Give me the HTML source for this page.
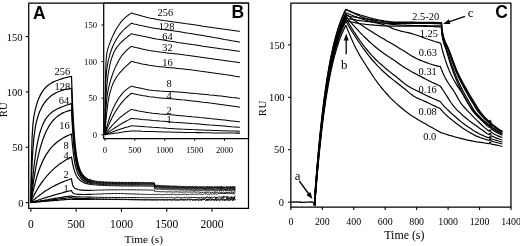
<!DOCTYPE html>
<html lang="en"><head><meta charset="utf-8"><title>Figure</title>
<style>
html,body{margin:0;padding:0;background:#fff;}
svg{display:block;}
.se{font-family:"Liberation Serif","DejaVu Serif",serif;}
.sa{font-family:"Liberation Sans","DejaVu Sans",sans-serif;}
</style></head><body>
<svg width="520" height="246" viewBox="0 0 520 246">
<rect x="0" y="0" width="520" height="246" fill="#fff"/>
<g fill="none" stroke="#000" stroke-linejoin="round" stroke-linecap="butt">
<rect x="28.7" y="3.2" width="219.80" height="205.25" stroke-width="1.25"/>
<line x1="30.85" y1="208.45" x2="30.85" y2="211.80" stroke-width="1.1" />
<line x1="76.16" y1="208.45" x2="76.16" y2="211.80" stroke-width="1.1" />
<line x1="121.46" y1="208.45" x2="121.46" y2="211.80" stroke-width="1.1" />
<line x1="166.76" y1="208.45" x2="166.76" y2="211.80" stroke-width="1.1" />
<line x1="212.07" y1="208.45" x2="212.07" y2="211.80" stroke-width="1.1" />
<line x1="28.70" y1="202.60" x2="25.65" y2="202.60" stroke-width="1.1" />
<line x1="28.70" y1="147.26" x2="25.65" y2="147.26" stroke-width="1.1" />
<line x1="28.70" y1="91.93" x2="25.65" y2="91.93" stroke-width="1.1" />
<line x1="28.70" y1="36.59" x2="25.65" y2="36.59" stroke-width="1.1" />
<polyline points="30.9,202.6 31,186.2 31.2,173.2 31.5,158.4 31.8,147.6 32.1,137.6 32.5,130.6 32.9,124.6 33.4,120.4 33.9,116.5 34.5,113.4 35.2,110 35.9,107.1 36.8,104 37.7,101.2 38.8,98.4 39.9,95.9 41.3,93.4 42.6,91.2 44,89.4 45.3,87.8 46.7,86.5 48.1,85.3 49.4,84.3 50.8,83.4 52.1,82.6 53.5,81.9 54.9,81.3 56.2,80.7 57.6,80.2 58.9,79.7 60.3,79.2 61.7,78.8 63,78.4 64.4,78 65.7,77.7 67.1,77.3 68.5,77 69.8,76.7 71.2,76.4 71.5,76.3 71.8,84.7 72.2,94.8 72.6,105.6 73.2,116.8 73.8,127.6 74.5,137.4 75.3,146.1 76.2,153.6 77.2,159.6 78.3,164.7 79.7,169.1 81,172.2 82.9,175 85.1,177.3 87.8,179 91,180.1" stroke-width="1.2" />
<polyline points="91,180.1 94.2,180.9 95.7,181.1 97.2,181.3 98.6,181.5 100.1,181.7 101.5,181.7 103,181.9 104.4,182 105.9,182 107.3,182.1 108.8,182.1 110.2,182.1 111.7,182.3 113.1,182.2 114.6,182.3 116,182.4 117.5,182.3 118.9,182.3 120.4,182.4 121.8,182.4 123.3,182.4 124.7,182.4 126.2,182.4 127.6,182.5 129.1,182.4 130.5,182.4 132,182.4 133.4,182.4 134.9,182.5 136.3,182.4 137.8,182.4 139.2,182.5 139.6,182.4 140.1,182.5 140.6,182.5 141.1,182.5 141.6,182.5 142.1,182.5 142.6,182.4 143.1,182.5 143.6,182.5 144.1,182.5 144.6,182.5 145.1,182.6 145.6,182.6 146.1,182.5 146.6,182.5 147.1,182.5 147.6,182.5 148.1,182.6 148.6,182.5 149.1,182.6 149.5,182.5 150,182.6 150.5,182.6 151,182.5 151.5,182.6 152,182.6 152.5,182.7 153,182.7 153.5,182.8 154,182.7 154.3,182.7 154.8,185.1 155.2,185.3 155.7,185.3 156.2,185.3 156.7,185.2 157.2,185.2 157.7,185.3 158.2,185.5 158.7,185.4 159.2,185.4 159.7,185.6 160.2,185.5 160.6,185.6 161.1,185.6 161.6,185.6 162.1,185.6 162.6,185.7 163.1,185.7 163.6,185.8 164.1,185.7 164.6,185.9 165.1,185.8 165.6,185.8 166.1,185.7 166.6,185.9 167.1,186 167.6,185.9 168.1,186 168.6,185.8 169.1,186 169.6,186 170.1,185.8 170.6,186.1 171.1,186.1 171.6,186.1 172.1,186.1 172.6,186.2 173.1,186.1 173.6,186 174.1,186.1 174.6,186.1 175.1,186 175.6,186.1 176.1,186.1 176.6,186.1 177.1,186.1 177.6,186.4 178.1,186.3 178.6,186.4 179.1,186.4 179.6,186.3 180.1,186.4 180.6,186.3 181.1,186.3 181.6,186.6 182.1,186.4 182.6,186.5 183.1,186.3 183.6,186.6 184.1,186.6 184.6,186.5 185.1,186.5 185.6,186.4 186.1,186.6 186.6,186.7 187.1,186.3 187.6,186.7 188.1,186.7 188.6,186.7 189.1,186.7 189.6,186.7 190.1,186.6 190.6,186.3 191,186.8 191.5,186.7 192,186.5 192.5,186.4 193,186.3 193.5,186.9 194,186.6 194.5,186.4 195,187 195.5,186.6 196,186.9 196.5,186.5 197,186.4 197.5,186.7 198,187 198.5,187 199,186.8 199.5,186.5 200,186.9 200.5,186.6 201,186.8 201.5,186.9 202,186.6 202.5,186.9 203,186.9 203.5,186.6 204,186.8 204.5,186.6 205,186.8 205.5,187.1 206,186.8 206.5,186.5 207,186.8 207.5,186.4 208,187.2 208.5,187 209,186.6 209.5,186.7 210,186.8 210.5,186.7 211,186.5 211.5,186.7 212,186.8 212.5,186.8 213,186.7 213.5,187 214,186.7 214.5,186.7 215,186.6 215.5,186.9 216,187.3 216.5,186.8 217,186.5 217.5,186.7 218,186.7 218.5,187 219,187 219.5,186.7 220,187.3 220.5,186.5 220.9,186.5 221.4,186.4 221.9,187.3 222.4,187.3 222.9,186.5 223.4,187 223.9,187.1 224.4,187 224.9,186.7 225.4,187.2 225.9,186.9 226.4,186.7 226.9,186.6 227.4,187.4 227.9,186.5 228.4,187 228.9,187 229.4,186.8 229.9,187.1 230.4,186.4 230.9,187.2 231.4,186.8 231.9,187.3 232.4,186.7 232.9,186.4 233.4,186.4 233.9,187.3 234.4,186.7 234.9,186.4 235.3,187.3" stroke-width="0.95" />
<polyline points="30.9,202.6 31,195.2 31.2,188.5 31.5,179.7 31.8,172.1 32.1,163.6 32.5,156.5 32.9,149.2 33.4,143.3 33.9,137.6 34.5,133.1 35.2,128.2 35.9,124.2 36.8,120.3 37.7,117.1 38.8,113.8 39.9,111.1 41.3,108.2 42.6,105.7 44,103.6 45.3,101.7 46.7,100 48.1,98.6 49.4,97.3 50.8,96.1 52.1,95.1 53.5,94.2 54.9,93.4 56.2,92.7 57.6,92 58.9,91.5 60.3,91 61.7,90.5 63,90.1 64.4,89.7 65.7,89.4 67.1,89.1 68.5,88.9 69.8,88.6 71.2,88.4 71.5,88.4 71.8,95.8 72.2,104.6 72.6,114.2 73.2,124.1 73.8,133.6 74.5,142.3 75.3,150.1 76.2,156.7 77.2,162.2 78.3,166.7 79.7,170.7 81,173.6 82.9,176.1 85.1,178.2 87.8,179.9 91,181" stroke-width="1.2" />
<polyline points="91,181 94.2,181.7 95.7,181.8 97.2,181.9 98.6,182.2 100.1,182.3 101.5,182.4 103,182.4 104.4,182.5 105.9,182.6 107.3,182.7 108.8,182.6 110.2,182.7 111.7,182.7 113.1,182.8 114.6,182.8 116,182.9 117.5,182.9 118.9,182.9 120.4,183 121.8,182.9 123.3,182.9 124.7,182.9 126.2,183 127.6,182.9 129.1,183 130.5,183 132,183 133.4,182.9 134.9,182.9 136.3,183 137.8,183 139.2,183 139.6,183 140.1,183 140.6,183.1 141.1,183.1 141.6,183 142.1,183 142.6,183 143.1,183 143.6,183 144.1,183 144.6,183.1 145.1,183.1 145.6,183.1 146.1,183 146.6,183.2 147.1,183.1 147.6,183 148.1,183.2 148.6,183.2 149.1,183.1 149.5,183.2 150,183.1 150.5,183.2 151,183.1 151.5,183.2 152,183.1 152.5,183.3 153,183.1 153.5,183.3 154,183.2 154.3,183.3 154.8,185.8 155.2,185.8 155.7,185.8 156.2,185.8 156.7,186 157.2,185.9 157.7,185.9 158.2,186.1 158.7,185.9 159.2,186.1 159.7,186.1 160.2,186.2 160.6,186.1 161.1,186.3 161.6,186.2 162.1,186.2 162.6,186.3 163.1,186.2 163.6,186.2 164.1,186.2 164.6,186.2 165.1,186.4 165.6,186.4 166.1,186.5 166.6,186.5 167.1,186.4 167.6,186.4 168.1,186.5 168.6,186.5 169.1,186.4 169.6,186.4 170.1,186.7 170.6,186.7 171.1,186.5 171.6,186.6 172.1,186.7 172.6,186.6 173.1,186.6 173.6,186.9 174.1,186.5 174.6,186.5 175.1,186.8 175.6,186.8 176.1,186.9 176.6,186.7 177.1,186.9 177.6,186.8 178.1,186.7 178.6,186.8 179.1,186.7 179.6,187 180.1,186.7 180.6,187.1 181.1,187.1 181.6,186.8 182.1,187 182.6,187.2 183.1,187.2 183.6,186.8 184.1,187.2 184.6,187.2 185.1,186.8 185.6,186.9 186.1,187.1 186.6,187.2 187.1,186.9 187.6,186.9 188.1,187 188.6,187.1 189.1,187.1 189.6,186.8 190.1,187.1 190.6,187.4 191,187.4 191.5,187.1 192,187 192.5,187.1 193,187 193.5,187.3 194,187.3 194.5,187.4 195,187.3 195.5,187.4 196,187 196.5,187.5 197,187.4 197.5,187.1 198,187.3 198.5,187.4 199,186.9 199.5,187 200,187.5 200.5,187.5 201,187.3 201.5,187.3 202,187.4 202.5,187.3 203,187.2 203.5,187.1 204,187.5 204.5,187.2 205,187.7 205.5,187.7 206,187.7 206.5,187.7 207,187.1 207.5,187.5 208,187.4 208.5,187.4 209,187.6 209.5,187.8 210,187.7 210.5,187.1 211,187.5 211.5,187.5 212,187.6 212.5,187.2 213,187.2 213.5,187.5 214,187.4 214.5,187.5 215,187.3 215.5,187.3 216,187.3 216.5,187 217,187 217.5,187.9 218,187.5 218.5,187.9 219,187.5 219.5,187.1 220,187.2 220.5,187.4 220.9,187.8 221.4,187.1 221.9,187.3 222.4,187.6 222.9,187.1 223.4,187.9 223.9,187.8 224.4,187.1 224.9,187.9 225.4,187.8 225.9,187.4 226.4,187.2 226.9,187.3 227.4,188 227.9,187.7 228.4,187.2 228.9,187.6 229.4,187.8 229.9,188 230.4,187.7 230.9,186.9 231.4,188 231.9,187.4 232.4,186.9 232.9,187.2 233.4,187.7 233.9,187.3 234.4,187.9 234.9,187.4 235.3,187.7" stroke-width="0.95" />
<polyline points="30.9,202.6 31,200 31.2,197.4 31.5,193.7 31.8,190.2 32.1,185.7 32.5,181.5 32.9,176.6 33.4,172 33.9,167 34.5,162.3 35.2,156.8 35.9,151.8 36.8,146.3 37.7,141.6 38.8,136.8 39.9,132.7 41.3,128.4 42.6,124.9 44,122 45.3,119.6 46.7,117.6 48.1,115.9 49.4,114.4 50.8,113.2 52.1,112.1 53.5,111.1 54.9,110.3 56.2,109.5 57.6,108.8 58.9,108.2 60.3,107.6 61.7,107 63,106.5 64.4,106 65.7,105.5 67.1,105 68.5,104.5 69.8,104.1 71.2,103.7 71.5,103.6 71.8,109.6 72.2,117 72.6,125 73.2,133.3 73.8,141.2 74.5,148.5 75.3,155.1 76.2,160.7 77.2,165.4 78.3,169.2 79.7,172.6 81,175.2 82.9,177.4 85.1,179.3 87.8,180.7 91,181.7" stroke-width="1.2" />
<polyline points="91,181.7 94.2,182.3 95.7,182.6 97.2,182.7 98.6,182.9 100.1,182.9 101.5,183 103,183.2 104.4,183.2 105.9,183.3 107.3,183.4 108.8,183.3 110.2,183.4 111.7,183.4 113.1,183.5 114.6,183.5 116,183.5 117.5,183.5 118.9,183.6 120.4,183.5 121.8,183.5 123.3,183.6 124.7,183.6 126.2,183.7 127.6,183.7 129.1,183.6 130.5,183.7 132,183.6 133.4,183.6 134.9,183.7 136.3,183.6 137.8,183.7 139.2,183.7 139.6,183.6 140.1,183.7 140.6,183.7 141.1,183.7 141.6,183.7 142.1,183.6 142.6,183.7 143.1,183.7 143.6,183.6 144.1,183.7 144.6,183.6 145.1,183.6 145.6,183.6 146.1,183.8 146.6,183.7 147.1,183.8 147.6,183.8 148.1,183.6 148.6,183.7 149.1,183.7 149.5,183.7 150,183.7 150.5,183.7 151,183.6 151.5,183.7 152,183.7 152.5,183.7 153,183.7 153.5,183.8 154,183.8 154.3,183.8 154.8,186.4 155.2,186.4 155.7,186.3 156.2,186.5 156.7,186.5 157.2,186.6 157.7,186.4 158.2,186.4 158.7,186.5 159.2,186.5 159.7,186.6 160.2,186.8 160.6,186.6 161.1,186.7 161.6,186.7 162.1,186.8 162.6,186.7 163.1,186.9 163.6,186.7 164.1,186.8 164.6,186.9 165.1,186.8 165.6,187 166.1,186.9 166.6,187.1 167.1,187 167.6,187.1 168.1,187.1 168.6,187.1 169.1,187.2 169.6,187.3 170.1,187.2 170.6,186.9 171.1,187.1 171.6,187.2 172.1,187.3 172.6,187.3 173.1,187.2 173.6,187.2 174.1,187.1 174.6,187.3 175.1,187.1 175.6,187.2 176.1,187.2 176.6,187.4 177.1,187.4 177.6,187.5 178.1,187.3 178.6,187.6 179.1,187.4 179.6,187.6 180.1,187.5 180.6,187.6 181.1,187.7 181.6,187.5 182.1,187.5 182.6,187.5 183.1,187.7 183.6,187.5 184.1,187.7 184.6,187.8 185.1,187.6 185.6,187.5 186.1,187.7 186.6,187.5 187.1,187.5 187.6,187.9 188.1,187.8 188.6,187.8 189.1,187.6 189.6,187.7 190.1,187.6 190.6,187.9 191,187.8 191.5,187.9 192,187.6 192.5,187.6 193,187.9 193.5,187.5 194,188 194.5,188.1 195,187.9 195.5,187.7 196,187.5 196.5,187.8 197,188 197.5,187.7 198,188.2 198.5,187.6 199,188 199.5,188.1 200,188.1 200.5,187.6 201,187.6 201.5,188.1 202,187.5 202.5,187.6 203,188 203.5,188.2 204,188.2 204.5,187.9 205,188.1 205.5,188.2 206,188.1 206.5,187.6 207,188.3 207.5,187.6 208,188 208.5,187.7 209,187.9 209.5,187.6 210,188.2 210.5,188.1 211,187.9 211.5,187.9 212,188.1 212.5,188.1 213,188.3 213.5,188 214,187.7 214.5,187.6 215,188 215.5,187.5 216,187.5 216.5,188.1 217,188.3 217.5,187.6 218,187.5 218.5,187.8 219,187.5 219.5,188 220,188 220.5,188.4 220.9,188.1 221.4,187.5 221.9,188.4 222.4,188.4 222.9,188.5 223.4,188 223.9,187.9 224.4,188 224.9,187.6 225.4,187.8 225.9,187.8 226.4,187.9 226.9,188 227.4,188.5 227.9,188.4 228.4,187.8 228.9,188.3 229.4,188.1 229.9,187.8 230.4,187.9 230.9,188.3 231.4,188.3 231.9,188.4 232.4,187.8 232.9,187.7 233.4,188.4 233.9,188.3 234.4,188.4 234.9,187.9 235.3,188.2" stroke-width="0.95" />
<polyline points="30.9,202.6 31,201 31.2,199.4 31.5,197.1 31.8,194.9 32.1,192 32.5,189.2 32.9,185.9 33.4,182.7 33.9,179 34.5,175.6 35.2,171.2 35.9,167.1 36.8,162.4 37.7,158.1 38.8,153.4 39.9,149.1 41.3,144.4 42.6,140.2 44,136.5 45.3,133.2 46.7,130.3 48.1,127.7 49.4,125.4 50.8,123.4 52.1,121.6 53.5,120 54.9,118.6 56.2,117.4 57.6,116.3 58.9,115.3 60.3,114.4 61.7,113.6 63,112.9 64.4,112.3 65.7,111.7 67.1,111.2 68.5,110.8 69.8,110.4 71.2,110.1 71.5,110 71.8,115.5 72.2,122.4 72.6,129.7 73.2,137.3 73.8,144.6 74.5,151.4 75.3,157.4 76.2,162.6 77.2,167.1 78.3,170.6 79.7,173.8 81,176.2 82.9,178.3 85.1,180.2 87.8,181.4 91,182.5" stroke-width="1.2" />
<polyline points="91,182.5 94.2,183 95.7,183.3 97.2,183.4 98.6,183.5 100.1,183.7 101.5,183.8 103,183.8 104.4,183.9 105.9,184 107.3,184 108.8,184 110.2,184.1 111.7,184.1 113.1,184.1 114.6,184.1 116,184.3 117.5,184.3 118.9,184.2 120.4,184.3 121.8,184.2 123.3,184.2 124.7,184.2 126.2,184.3 127.6,184.2 129.1,184.2 130.5,184.3 132,184.3 133.4,184.4 134.9,184.2 136.3,184.3 137.8,184.3 139.2,184.3 139.6,184.4 140.1,184.3 140.6,184.4 141.1,184.4 141.6,184.3 142.1,184.4 142.6,184.3 143.1,184.4 143.6,184.3 144.1,184.3 144.6,184.3 145.1,184.4 145.6,184.4 146.1,184.3 146.6,184.3 147.1,184.3 147.6,184.3 148.1,184.4 148.6,184.4 149.1,184.3 149.5,184.4 150,184.5 150.5,184.4 151,184.5 151.5,184.4 152,184.4 152.5,184.5 153,184.4 153.5,184.4 154,184.5 154.3,184.4 154.8,187.1 155.2,187.1 155.7,187 156.2,187.1 156.7,187 157.2,187 157.7,187.2 158.2,187.1 158.7,187.2 159.2,187.2 159.7,187.3 160.2,187.2 160.6,187.4 161.1,187.4 161.6,187.4 162.1,187.4 162.6,187.6 163.1,187.4 163.6,187.6 164.1,187.5 164.6,187.5 165.1,187.5 165.6,187.5 166.1,187.6 166.6,187.8 167.1,187.7 167.6,187.6 168.1,187.7 168.6,187.6 169.1,187.7 169.6,187.7 170.1,187.7 170.6,187.6 171.1,188 171.6,188 172.1,188 172.6,188 173.1,188.1 173.6,187.7 174.1,188.1 174.6,187.9 175.1,187.8 175.6,188 176.1,188.1 176.6,188.1 177.1,188.1 177.6,188.1 178.1,188.1 178.6,188.1 179.1,188.3 179.6,187.9 180.1,187.9 180.6,188.1 181.1,188.3 181.6,188 182.1,188.2 182.6,188.2 183.1,188.3 183.6,188 184.1,188.1 184.6,188.3 185.1,188.3 185.6,188.3 186.1,188.3 186.6,188.2 187.1,188 187.6,188.6 188.1,188.1 188.6,188.1 189.1,188.5 189.6,188.1 190.1,188.1 190.6,188.2 191,188.6 191.5,188.4 192,188.2 192.5,188.4 193,188.7 193.5,188.2 194,188.5 194.5,188.6 195,188.5 195.5,188.7 196,188.5 196.5,188.8 197,188.1 197.5,188.7 198,188.6 198.5,188.6 199,188.5 199.5,188.6 200,188.2 200.5,188.7 201,188.2 201.5,188.6 202,188.2 202.5,188.7 203,188.9 203.5,188.3 204,188.8 204.5,188.4 205,188.3 205.5,188.8 206,188.7 206.5,188.5 207,188.3 207.5,188.3 208,188.6 208.5,188.5 209,188.3 209.5,188.9 210,188.2 210.5,188.3 211,188.8 211.5,188.5 212,188.4 212.5,188.5 213,189 213.5,189 214,188.9 214.5,189 215,188.6 215.5,188.4 216,188.6 216.5,188.2 217,188.6 217.5,188.7 218,189 218.5,188.2 219,188.5 219.5,188.2 220,188.2 220.5,189.1 220.9,188.5 221.4,188.7 221.9,188.4 222.4,189.1 222.9,188.5 223.4,188.5 223.9,188.8 224.4,189.1 224.9,188.5 225.4,189.1 225.9,188.8 226.4,189.2 226.9,188.9 227.4,188.9 227.9,188.5 228.4,188.4 228.9,188.4 229.4,188.8 229.9,188.4 230.4,188.5 230.9,188.6 231.4,188.3 231.9,188.1 232.4,188.7 232.9,188.1 233.4,188.5 233.9,188.8 234.4,188.7 234.9,188.5 235.3,188.9" stroke-width="0.95" />
<polyline points="30.9,202.6 31,201.6 31.2,200.7 31.5,199.3 31.8,197.9 32.1,196.1 32.5,194.3 32.9,192.2 33.4,190.2 33.9,187.9 34.5,185.6 35.2,182.8 35.9,180.1 36.8,176.9 37.7,174 38.8,170.8 39.9,167.8 41.3,164.4 42.6,161.3 44,158.6 45.3,156.1 46.7,153.8 48.1,151.8 49.4,149.9 50.8,148.2 52.1,146.7 53.5,145.3 54.9,144 56.2,142.8 57.6,141.7 58.9,140.7 60.3,139.7 61.7,138.9 63,138.1 64.4,137.3 65.7,136.6 67.1,135.9 68.5,135.3 69.8,134.7 71.2,134.1 71.5,134 71.8,137.6 72.2,142 72.6,146.9 73.2,151.8 73.8,156.7 74.5,161.2 75.3,165.3 76.2,168.8 77.2,171.9 78.3,174.4 79.7,176.7 81,178.5 82.9,180.2 85.1,181.5 87.8,182.6 91,183.3" stroke-width="1.2" />
<polyline points="91,183.3 94.2,183.9 95.7,184 97.2,184.2 98.6,184.4 100.1,184.4 101.5,184.5 103,184.6 104.4,184.6 105.9,184.7 107.3,184.8 108.8,184.8 110.2,184.8 111.7,184.9 113.1,184.9 114.6,184.9 116,185 117.5,185 118.9,185 120.4,185 121.8,185 123.3,185 124.7,185.1 126.2,185 127.6,185.1 129.1,185 130.5,185.1 132,185.1 133.4,185.1 134.9,185.1 136.3,185 137.8,185.1 139.2,185.1 139.6,185.2 140.1,185.2 140.6,185.2 141.1,185.1 141.6,185.1 142.1,185.2 142.6,185.2 143.1,185.1 143.6,185.2 144.1,185.1 144.6,185.2 145.1,185.1 145.6,185.1 146.1,185.2 146.6,185.2 147.1,185.2 147.6,185.2 148.1,185.3 148.6,185.2 149.1,185.2 149.5,185.3 150,185.2 150.5,185.2 151,185.2 151.5,185.2 152,185.3 152.5,185.2 153,185.4 153.5,185.4 154,185.4 154.3,185.4 154.8,187.8 155.2,188 155.7,188 156.2,187.9 156.7,187.9 157.2,188 157.7,188.1 158.2,188.2 158.7,188.1 159.2,188 159.7,188.1 160.2,188.1 160.6,188.3 161.1,188.3 161.6,188.4 162.1,188.3 162.6,188.3 163.1,188.4 163.6,188.3 164.1,188.4 164.6,188.3 165.1,188.4 165.6,188.3 166.1,188.5 166.6,188.4 167.1,188.4 167.6,188.7 168.1,188.4 168.6,188.5 169.1,188.4 169.6,188.7 170.1,188.6 170.6,188.6 171.1,188.6 171.6,188.6 172.1,188.5 172.6,188.8 173.1,188.6 173.6,188.7 174.1,188.6 174.6,188.6 175.1,188.8 175.6,188.8 176.1,188.6 176.6,188.6 177.1,188.7 177.6,188.7 178.1,188.7 178.6,188.9 179.1,189 179.6,189.1 180.1,188.9 180.6,189.1 181.1,188.8 181.6,188.9 182.1,188.8 182.6,188.9 183.1,189.1 183.6,189.1 184.1,189 184.6,189 185.1,188.8 185.6,189 186.1,189.2 186.6,189.2 187.1,189 187.6,189.3 188.1,189.1 188.6,188.9 189.1,188.9 189.6,189.1 190.1,189.1 190.6,189.3 191,189.1 191.5,189.2 192,189.1 192.5,188.9 193,189 193.5,189.4 194,189.4 194.5,189.1 195,188.9 195.5,189.2 196,189 196.5,189.4 197,189.4 197.5,188.9 198,189 198.5,189.3 199,189.1 199.5,189.2 200,189.1 200.5,189.2 201,189.2 201.5,189 202,189.4 202.5,189.1 203,189 203.5,189.7 204,189.5 204.5,189.4 205,189.3 205.5,189.4 206,189 206.5,189.6 207,189.5 207.5,189.7 208,189.6 208.5,189.3 209,189.7 209.5,189 210,189.2 210.5,189.7 211,189.1 211.5,189.7 212,189.4 212.5,189.6 213,189.7 213.5,189.4 214,189 214.5,189.8 215,189.7 215.5,189.4 216,189 216.5,189.5 217,189.1 217.5,189.4 218,189.5 218.5,189.2 219,189.7 219.5,189.4 220,189.9 220.5,189.4 220.9,188.9 221.4,189.9 221.9,189.8 222.4,189.3 222.9,189 223.4,189.4 223.9,188.9 224.4,189.6 224.9,188.9 225.4,189.7 225.9,189.1 226.4,189.6 226.9,189.1 227.4,189.9 227.9,189.6 228.4,188.9 228.9,189.1 229.4,189.4 229.9,189.6 230.4,188.9 230.9,189.8 231.4,189.8 231.9,190 232.4,189.2 232.9,188.9 233.4,189.9 233.9,189.1 234.4,189.1 234.9,189.8 235.3,189.4" stroke-width="0.95" />
<polyline points="30.9,202.6 31,202.1 31.2,201.6 31.5,200.9 31.8,200.2 32.1,199.3 32.5,198.5 32.9,197.5 33.4,196.6 33.9,195.5 34.5,194.4 35.2,193.1 35.9,191.7 36.8,190.2 37.7,188.7 38.8,186.9 39.9,185.2 41.3,183.2 42.6,181.3 44,179.5 45.3,177.8 46.7,176.2 48.1,174.6 49.4,173.1 50.8,171.7 52.1,170.4 53.5,169.1 54.9,167.9 56.2,166.8 57.6,165.7 58.9,164.6 60.3,163.6 61.7,162.7 63,161.8 64.4,160.9 65.7,160.1 67.1,159.3 68.5,158.6 69.8,157.9 71.2,157.2 71.5,157 71.8,158.8 72.2,161.1 72.6,163.5 73.2,166.2 73.8,168.7 74.5,171.1 75.3,173.3 76.2,175.3 77.2,177 78.3,178.6 79.7,180 81,181 82.9,182.1 85.1,183.1 87.8,183.8 91,184.5" stroke-width="1.2" />
<polyline points="91,184.5 94.2,184.9 95.7,184.9 97.2,185.1 98.6,185.3 100.1,185.4 101.5,185.4 103,185.4 104.4,185.5 105.9,185.6 107.3,185.6 108.8,185.7 110.2,185.7 111.7,185.7 113.1,185.8 114.6,185.8 116,185.8 117.5,185.9 118.9,185.9 120.4,185.9 121.8,186 123.3,186 124.7,186 126.2,186 127.6,186 129.1,186 130.5,186.1 132,186.1 133.4,186 134.9,186 136.3,186.1 137.8,186 139.2,186 139.6,186.1 140.1,186.1 140.6,186 141.1,186 141.6,186 142.1,186.1 142.6,186.2 143.1,186.2 143.6,186.2 144.1,186.1 144.6,186.1 145.1,186.1 145.6,186.2 146.1,186.3 146.6,186.3 147.1,186.3 147.6,186.1 148.1,186.2 148.6,186.3 149.1,186.2 149.5,186.2 150,186.3 150.5,186.4 151,186.3 151.5,186.3 152,186.4 152.5,186.4 153,186.5 153.5,186.4 154,186.4 154.3,186.4 154.8,189 155.2,188.9 155.7,189.1 156.2,189 156.7,189.1 157.2,189.1 157.7,189.1 158.2,189.1 158.7,189.1 159.2,189.1 159.7,189.1 160.2,189.3 160.6,189.1 161.1,189.3 161.6,189.4 162.1,189.5 162.6,189.4 163.1,189.4 163.6,189.4 164.1,189.3 164.6,189.3 165.1,189.3 165.6,189.4 166.1,189.4 166.6,189.4 167.1,189.5 167.6,189.7 168.1,189.6 168.6,189.6 169.1,189.6 169.6,189.7 170.1,189.5 170.6,189.8 171.1,189.7 171.6,189.8 172.1,189.6 172.6,189.6 173.1,189.6 173.6,189.9 174.1,189.9 174.6,189.6 175.1,189.7 175.6,190 176.1,189.9 176.6,190.1 177.1,189.7 177.6,189.7 178.1,189.7 178.6,189.8 179.1,190 179.6,190 180.1,189.9 180.6,190 181.1,189.8 181.6,190 182.1,190 182.6,189.8 183.1,190.1 183.6,190.1 184.1,190.3 184.6,189.8 185.1,190.1 185.6,190.1 186.1,189.9 186.6,189.9 187.1,190.3 187.6,190.3 188.1,189.9 188.6,189.9 189.1,190.1 189.6,190 190.1,190.4 190.6,190.2 191,190.4 191.5,190.4 192,190.5 192.5,190.2 193,190.2 193.5,190.3 194,190.1 194.5,190.5 195,190.4 195.5,190.5 196,190.2 196.5,190.1 197,190.5 197.5,190 198,190.4 198.5,190.5 199,190.5 199.5,190.1 200,190.7 200.5,190.4 201,190.5 201.5,190.3 202,190.4 202.5,190.6 203,190.6 203.5,190 204,190.3 204.5,190 205,190 205.5,190.3 206,190 206.5,190.4 207,190.5 207.5,190.1 208,190.5 208.5,190.6 209,190.4 209.5,190.5 210,190 210.5,190 211,190.2 211.5,190 212,190.6 212.5,190.6 213,190.5 213.5,190.3 214,190.8 214.5,190.8 215,190.6 215.5,190.8 216,190.6 216.5,190.8 217,190.6 217.5,190.5 218,190.4 218.5,190.1 219,190.6 219.5,190.5 220,190 220.5,190.9 220.9,190.4 221.4,190.8 221.9,190.9 222.4,190 222.9,190.2 223.4,190.5 223.9,190.1 224.4,189.9 224.9,190.3 225.4,190.5 225.9,191 226.4,189.9 226.9,190.1 227.4,190.9 227.9,190.5 228.4,190.7 228.9,189.9 229.4,190.7 229.9,190.8 230.4,190 230.9,190.7 231.4,190.9 231.9,190.9 232.4,190.8 232.9,190.5 233.4,190.7 233.9,190.2 234.4,189.9 234.9,190.9 235.3,191" stroke-width="0.95" />
<polyline points="30.9,202.6 31,202.4 31.2,202.3 31.5,202 31.8,201.7 32.1,201.4 32.5,201.1 32.9,200.6 33.4,200.2 33.9,199.8 34.5,199.3 35.2,198.7 35.9,198 36.8,197.3 37.7,196.6 38.8,195.7 39.9,194.9 41.3,193.9 42.6,192.9 44,192 45.3,191.1 46.7,190.2 48.1,189.4 49.4,188.6 50.8,187.8 52.1,187 53.5,186.3 54.9,185.6 56.2,184.9 57.6,184.3 58.9,183.6 60.3,183 61.7,182.4 63,181.9 64.4,181.3 65.7,180.8 67.1,180.3 68.5,179.8 69.8,179.3 71.2,178.8 71.5,178.7 71.8,180.9 72.2,183 72.6,184.7 73.2,186.2 73.8,187.1 74.5,187.9 75.3,188.4 76.2,188.9 77.2,189.2 78.3,189.5 79.7,189.8 81,190.1 82.9,190.2 85.1,190.4 87.8,190.4 91,190.3" stroke-width="1.2" />
<polyline points="91,190.3 94.2,190.3 95.7,190.2 97.2,190.1 98.6,190.1 100.1,190.1 101.5,190 103,190 104.4,189.9 105.9,189.9 107.3,189.9 108.8,189.8 110.2,189.8 111.7,189.8 113.1,189.8 114.6,189.8 116,189.8 117.5,189.8 118.9,189.8 120.4,189.8 121.8,189.7 123.3,189.7 124.7,189.8 126.2,189.8 127.6,189.7 129.1,189.8 130.5,189.8 132,189.8 133.4,189.8 134.9,189.8 136.3,189.9 137.8,189.9 139.2,189.9 139.6,189.8 140.1,189.8 140.6,189.9 141.1,189.9 141.6,189.9 142.1,189.9 142.6,190 143.1,189.9 143.6,190 144.1,189.9 144.6,189.9 145.1,190 145.6,189.9 146.1,190 146.6,189.9 147.1,189.9 147.6,190.1 148.1,190 148.6,190.1 149.1,190.1 149.5,190 150,190.2 150.5,190.1 151,190 151.5,190.1 152,190.1 152.5,190.2 153,190.1 153.5,190.1 154,190.2 154.3,190.1 154.8,191.5 155.2,191.5 155.7,191.7 156.2,191.5 156.7,191.6 157.2,191.5 157.7,191.6 158.2,191.7 158.7,191.6 159.2,191.5 159.7,191.6 160.2,191.8 160.6,191.7 161.1,191.6 161.6,191.8 162.1,191.8 162.6,191.6 163.1,191.7 163.6,191.7 164.1,191.8 164.6,191.7 165.1,191.9 165.6,191.9 166.1,191.8 166.6,191.7 167.1,191.8 167.6,192 168.1,192 168.6,191.7 169.1,191.9 169.6,191.9 170.1,191.9 170.6,191.7 171.1,191.9 171.6,192 172.1,192 172.6,192.1 173.1,191.7 173.6,191.9 174.1,191.9 174.6,192.1 175.1,192 175.6,191.8 176.1,191.8 176.6,192 177.1,192 177.6,191.7 178.1,192 178.6,192.1 179.1,192.1 179.6,192 180.1,191.8 180.6,192 181.1,191.8 181.6,192.1 182.1,191.9 182.6,192.2 183.1,192 183.6,192.1 184.1,192.1 184.6,191.9 185.1,192.2 185.6,192 186.1,192.1 186.6,191.8 187.1,192.2 187.6,192.1 188.1,191.9 188.6,192.2 189.1,191.9 189.6,191.8 190.1,192.2 190.6,192.1 191,192.4 191.5,191.9 192,192.2 192.5,192 193,192.3 193.5,192 194,192.1 194.5,191.8 195,191.8 195.5,192.1 196,192.3 196.5,192.3 197,192.1 197.5,191.9 198,191.9 198.5,191.9 199,191.9 199.5,192.2 200,192.1 200.5,192.3 201,192.1 201.5,192.2 202,192.1 202.5,192.5 203,192.5 203.5,192 204,192.2 204.5,192.4 205,191.8 205.5,192.5 206,191.8 206.5,191.9 207,192.6 207.5,191.9 208,192 208.5,192.4 209,192 209.5,191.8 210,192.5 210.5,192.4 211,192.5 211.5,191.9 212,192.5 212.5,192.5 213,192.5 213.5,191.9 214,192.5 214.5,191.8 215,192.6 215.5,192.2 216,192.5 216.5,192.5 217,192.5 217.5,192.1 218,192.5 218.5,192.3 219,191.8 219.5,192.1 220,192.7 220.5,192.4 220.9,192.1 221.4,192.4 221.9,192.6 222.4,192.6 222.9,192.3 223.4,192.1 223.9,192.2 224.4,192.5 224.9,192.6 225.4,192.4 225.9,191.8 226.4,192.7 226.9,192.7 227.4,192.7 227.9,192.1 228.4,192.7 228.9,192.4 229.4,192.4 229.9,192.3 230.4,192.3 230.9,191.8 231.4,192.4 231.9,192.6 232.4,191.9 232.9,192.5 233.4,192.6 233.9,192.8 234.4,191.6 234.9,192 235.3,192" stroke-width="0.95" />
<polyline points="30.9,202.6 31,202.5 31.2,202.5 31.5,202.4 31.8,202.3 32.1,202.1 32.5,202 32.9,201.9 33.4,201.7 33.9,201.5 34.5,201.3 35.2,201.1 35.9,200.8 36.8,200.5 37.7,200.2 38.8,199.8 39.9,199.5 41.3,199 42.6,198.6 44,198.1 45.3,197.7 46.7,197.3 48.1,196.9 49.4,196.5 50.8,196.1 52.1,195.6 53.5,195.2 54.9,194.9 56.2,194.5 57.6,194.1 58.9,193.7 60.3,193.3 61.7,193 63,192.6 64.4,192.2 65.7,191.9 67.1,191.5 68.5,191.2 69.8,190.9 71.2,190.5 71.5,190.4 71.8,191.3 72.2,192 72.6,192.7 73.2,193.1 73.8,193.5 74.5,193.8 75.3,194 76.2,194 77.2,194.3 78.3,194.4 79.7,194.4 81,194.4 82.9,194.5 85.1,194.5 87.8,194.4 91,194.3" stroke-width="1.2" />
<polyline points="91,194.3 94.2,194.1 95.7,194.2 97.2,194 98.6,194 100.1,194 101.5,193.9 103,193.9 104.4,193.7 105.9,193.7 107.3,193.7 108.8,193.7 110.2,193.6 111.7,193.5 113.1,193.6 114.6,193.5 116,193.5 117.5,193.6 118.9,193.5 120.4,193.5 121.8,193.6 123.3,193.6 124.7,193.7 126.2,193.7 127.6,193.8 129.1,193.8 130.5,193.8 132,193.9 133.4,193.9 134.9,194 136.3,194 137.8,194.1 139.2,194.2 139.6,194.2 140.1,194.3 140.6,194.3 141.1,194.2 141.6,194.2 142.1,194.3 142.6,194.2 143.1,194.3 143.6,194.4 144.1,194.3 144.6,194.4 145.1,194.3 145.6,194.4 146.1,194.4 146.6,194.4 147.1,194.5 147.6,194.4 148.1,194.4 148.6,194.5 149.1,194.5 149.5,194.5 150,194.4 150.5,194.4 151,194.6 151.5,194.5 152,194.5 152.5,194.5 153,194.6 153.5,194.4 154,194.5 154.3,194.5 154.8,194.4 155.2,194.6 155.7,194.5 156.2,194.6 156.7,194.6 157.2,194.4 157.7,194.5 158.2,194.4 158.7,194.4 159.2,194.5 159.7,194.4 160.2,194.6 160.6,194.6 161.1,194.6 161.6,194.6 162.1,194.6 162.6,194.6 163.1,194.6 163.6,194.6 164.1,194.5 164.6,194.6 165.1,194.3 165.6,194.5 166.1,194.4 166.6,194.4 167.1,194.4 167.6,194.3 168.1,194.5 168.6,194.6 169.1,194.6 169.6,194.3 170.1,194.6 170.6,194.3 171.1,194.4 171.6,194.3 172.1,194.6 172.6,194.3 173.1,194.6 173.6,194.3 174.1,194.6 174.6,194.3 175.1,194.6 175.6,194.6 176.1,194.5 176.6,194.6 177.1,194.6 177.6,194.5 178.1,194.6 178.6,194.4 179.1,194.3 179.6,194.4 180.1,194.4 180.6,194.5 181.1,194.4 181.6,194.3 182.1,194.2 182.6,194.4 183.1,194.1 183.6,194.4 184.1,194.3 184.6,194.2 185.1,194.6 185.6,194.2 186.1,194.2 186.6,194.5 187.1,194.2 187.6,194.4 188.1,194.5 188.6,194.5 189.1,194.5 189.6,194 190.1,194.1 190.6,194.1 191,194.5 191.5,194.1 192,194.4 192.5,194.2 193,194.5 193.5,194 194,194.3 194.5,194.1 195,194.5 195.5,194.4 196,194 196.5,194.1 197,194.1 197.5,194.3 198,194.1 198.5,193.9 199,193.9 199.5,193.9 200,194.2 200.5,194.2 201,193.8 201.5,194.3 202,194.1 202.5,194.3 203,194.1 203.5,194.3 204,193.8 204.5,193.7 205,194.2 205.5,193.8 206,193.8 206.5,193.7 207,193.8 207.5,194.2 208,193.9 208.5,194.2 209,194 209.5,194.3 210,194.4 210.5,193.6 211,194 211.5,193.9 212,193.8 212.5,194.3 213,193.7 213.5,193.7 214,194.3 214.5,193.6 215,193.8 215.5,193.8 216,194 216.5,194.2 217,194.1 217.5,194.1 218,193.5 218.5,193.6 219,193.3 219.5,194 220,193.4 220.5,193.5 220.9,193.7 221.4,193.5 221.9,194 222.4,193.4 222.9,193.9 223.4,193.6 223.9,193.4 224.4,193.9 224.9,193.1 225.4,194 225.9,193.1 226.4,193 226.9,193.2 227.4,193.6 227.9,193.2 228.4,193.4 228.9,192.9 229.4,193.2 229.9,193.9 230.4,193.4 230.9,193.9 231.4,193.4 231.9,193.9 232.4,193.4 232.9,193 233.4,193.9 233.9,193.5 234.4,193.9 234.9,193.5 235.3,193.5" stroke-width="0.95" />
<polyline points="30.9,202.6 31,202.6 31.2,202.5 31.5,202.5 31.8,202.4 32.1,202.4 32.5,202.3 32.9,202.2 33.4,202.1 33.9,202 34.5,201.9 35.2,201.8 35.9,201.7 36.8,201.5 37.7,201.4 38.8,201.2 39.9,201 41.3,200.7 42.6,200.5 44,200.3 45.3,200 46.7,199.8 48.1,199.6 49.4,199.3 50.8,199.1 52.1,198.9 53.5,198.7 54.9,198.4 56.2,198.2 57.6,198 58.9,197.8 60.3,197.6 61.7,197.4 63,197.1 64.4,196.9 65.7,196.7 67.1,196.5 68.5,196.3 69.8,196.1 71.2,195.9 71.5,195.8 71.8,196.1 72.2,196.3 72.6,196.4 73.2,196.5 73.8,196.7 74.5,196.7 75.3,196.8 76.2,196.9 77.2,196.9 78.3,196.9 79.7,196.9 81,197 82.9,197 85.1,197 87.8,197.1 91,197.1" stroke-width="1.2" />
<polyline points="91,197.1 94.2,197.2 95.7,197.2 97.2,197.3 98.6,197.4 100.1,197.3 101.5,197.3 103,197.4 104.4,197.4 105.9,197.4 107.3,197.4 108.8,197.4 110.2,197.5 111.7,197.5 113.1,197.5 114.6,197.5 116,197.6 117.5,197.6 118.9,197.5 120.4,197.6 121.8,197.6 123.3,197.5 124.7,197.5 126.2,197.6 127.6,197.6 129.1,197.5 130.5,197.5 132,197.5 133.4,197.6 134.9,197.6 136.3,197.6 137.8,197.6 139.2,197.5 139.6,197.6 140.1,197.6 140.6,197.6 141.1,197.6 141.6,197.7 142.1,197.6 142.6,197.6 143.1,197.6 143.6,197.6 144.1,197.6 144.6,197.7 145.1,197.6 145.6,197.7 146.1,197.6 146.6,197.7 147.1,197.6 147.6,197.6 148.1,197.7 148.6,197.7 149.1,197.6 149.5,197.6 150,197.5 150.5,197.6 151,197.6 151.5,197.5 152,197.5 152.5,197.6 153,197.6 153.5,197.5 154,197.7 154.3,197.5 154.8,197.7 155.2,197.7 155.7,197.7 156.2,197.6 156.7,197.7 157.2,197.7 157.7,197.8 158.2,197.8 158.7,197.5 159.2,197.5 159.7,197.5 160.2,197.6 160.6,197.6 161.1,197.6 161.6,197.5 162.1,197.6 162.6,197.4 163.1,197.7 163.6,197.6 164.1,197.5 164.6,197.6 165.1,197.5 165.6,197.5 166.1,197.7 166.6,197.7 167.1,197.8 167.6,197.7 168.1,197.4 168.6,197.9 169.1,197.4 169.6,197.4 170.1,197.4 170.6,197.8 171.1,197.4 171.6,197.3 172.1,197.7 172.6,197.8 173.1,197.8 173.6,197.8 174.1,197.8 174.6,197.9 175.1,197.8 175.6,197.7 176.1,197.4 176.6,197.2 177.1,197.9 177.6,197.3 178.1,197.3 178.6,197.2 179.1,197.6 179.6,197.7 180.1,197.8 180.6,197.7 181.1,197.8 181.6,197.8 182.1,197.6 182.6,197.9 183.1,197.9 183.6,197.6 184.1,198 184.6,197.2 185.1,197.4 185.6,197.8 186.1,197.3 186.6,197.1 187.1,197.3 187.6,197.8 188.1,197.4 188.6,197.3 189.1,197.2 189.6,197.6 190.1,197.8 190.6,197.6 191,198 191.5,197.1 192,197.3 192.5,197.5 193,197.5 193.5,197 194,198 194.5,197 195,197.7 195.5,197.5 196,197.6 196.5,197.7 197,197.6 197.5,197.4 198,197.7 198.5,197.8 199,198.1 199.5,197.7 200,197.5 200.5,198.1 201,198.1 201.5,197 202,198.1 202.5,198 203,197.7 203.5,197.2 204,197.2 204.5,197.4 205,197.6 205.5,197.6 206,198.1 206.5,197.1 207,196.9 207.5,196.7 208,197.8 208.5,197.5 209,197.8 209.5,197.1 210,197.1 210.5,197.9 211,197.9 211.5,196.7 212,197.2 212.5,197.9 213,197.6 213.5,197.5 214,197 214.5,196.8 215,196.8 215.5,198 216,198.1 216.5,197.1 217,197 217.5,198.1 218,197.3 218.5,196.8 219,196.9 219.5,196.7 220,197.2 220.5,197.4 220.9,197.1 221.4,196.9 221.9,197.8 222.4,196.8 222.9,197.6 223.4,196.3 223.9,197.8 224.4,196.7 224.9,196.5 225.4,196.7 225.9,197 226.4,196.5 226.9,198.2 227.4,197.6 227.9,196.3 228.4,197.2 228.9,197.6 229.4,197.8 229.9,197.7 230.4,198.3 230.9,196.8 231.4,198.3 231.9,196.7 232.4,198.3 232.9,198 233.4,197.3 233.9,198.2 234.4,198.2 234.9,196.1 235.3,196.1" stroke-width="1.0" />
<polyline points="30.9,202.6 31,202.6 31.2,202.5 31.5,202.5 31.8,202.5 32.1,202.4 32.5,202.4 32.9,202.3 33.4,202.2 33.9,202.2 34.5,202.1 35.2,202 35.9,201.9 36.8,201.8 37.7,201.7 38.8,201.5 39.9,201.4 41.3,201.2 42.6,201 44,200.8 45.3,200.7 46.7,200.5 48.1,200.3 49.4,200.1 50.8,200 52.1,199.8 53.5,199.6 54.9,199.5 56.2,199.3 57.6,199.1 58.9,199 60.3,198.8 61.7,198.6 63,198.5 64.4,198.3 65.7,198.2 67.1,198 68.5,197.9 69.8,197.7 71.2,197.5 71.5,197.5 71.8,197.7 72.2,197.8 72.6,198 73.2,198.2 73.8,198.2 74.5,198.3 75.3,198.3 76.2,198.4 77.2,198.4 78.3,198.5 79.7,198.5 81,198.5 82.9,198.6 85.1,198.6 87.8,198.7 91,198.8" stroke-width="1.2" />
<polyline points="91,198.8 94.2,198.7 95.7,198.8 97.2,198.8 98.6,198.9 100.1,198.9 101.5,198.9 103,199 104.4,199 105.9,199 107.3,199.1 108.8,199.1 110.2,199.1 111.7,199.2 113.1,199.2 114.6,199.2 116,199.1 117.5,199.1 118.9,199.3 120.4,199.2 121.8,199.2 123.3,199.3 124.7,199.2 126.2,199.3 127.6,199.4 129.1,199.4 130.5,199.3 132,199.3 133.4,199.4 134.9,199.3 136.3,199.4 137.8,199.5 139.2,199.4 139.6,199.5 140.1,199.4 140.6,199.4 141.1,199.5 141.6,199.4 142.1,199.4 142.6,199.4 143.1,199.4 143.6,199.4 144.1,199.5 144.6,199.4 145.1,199.5 145.6,199.4 146.1,199.4 146.6,199.6 147.1,199.4 147.6,199.4 148.1,199.4 148.6,199.4 149.1,199.5 149.5,199.6 150,199.6 150.5,199.6 151,199.6 151.5,199.4 152,199.6 152.5,199.5 153,199.4 153.5,199.6 154,199.5 154.3,199.4 154.8,199.5 155.2,199.7 155.7,199.5 156.2,199.6 156.7,199.7 157.2,199.4 157.7,199.4 158.2,199.3 158.7,199.7 159.2,199.6 159.7,199.6 160.2,199.6 160.6,199.7 161.1,199.5 161.6,199.4 162.1,199.3 162.6,199.4 163.1,199.5 163.6,199.6 164.1,199.6 164.6,199.4 165.1,199.4 165.6,199.6 166.1,199.4 166.6,199.7 167.1,199.7 167.6,199.3 168.1,199.6 168.6,199.3 169.1,199.2 169.6,199.6 170.1,199.6 170.6,199.4 171.1,199.6 171.6,199.7 172.1,199.4 172.6,199.7 173.1,199.4 173.6,199.7 174.1,199.4 174.6,199.2 175.1,199.7 175.6,199.1 176.1,199.3 176.6,199.3 177.1,199.3 177.6,199.6 178.1,199.8 178.6,199.3 179.1,199.5 179.6,199.1 180.1,199.6 180.6,199.2 181.1,199.2 181.6,199.2 182.1,199.3 182.6,199.6 183.1,199 183.6,199.6 184.1,199.6 184.6,199.1 185.1,199 185.6,199.4 186.1,199.8 186.6,199.3 187.1,199 187.6,198.9 188.1,199.6 188.6,199 189.1,199.1 189.6,199 190.1,199 190.6,199.2 191,199.4 191.5,199.4 192,199.1 192.5,199.6 193,199.2 193.5,199.8 194,199.5 194.5,199.8 195,199.8 195.5,199.8 196,199.8 196.5,199.7 197,199.7 197.5,198.8 198,199.2 198.5,199.8 199,199.6 199.5,198.8 200,199.1 200.5,199.5 201,199.9 201.5,199.4 202,199.4 202.5,199.5 203,198.5 203.5,198.7 204,198.8 204.5,199 205,198.7 205.5,198.6 206,199 206.5,199.3 207,199.5 207.5,199.1 208,199.6 208.5,199.6 209,198.6 209.5,199.7 210,199.4 210.5,198.4 211,198.7 211.5,198.9 212,199.8 212.5,199.7 213,199.8 213.5,199.6 214,199.6 214.5,199.7 215,199.7 215.5,198.2 216,198.2 216.5,198.7 217,198.6 217.5,199.3 218,199.1 218.5,199.2 219,198.6 219.5,199.4 220,199.3 220.5,199.6 220.9,198.6 221.4,198 221.9,198.6 222.4,199.6 222.9,199.4 223.4,198.6 223.9,198.7 224.4,199.1 224.9,199.8 225.4,199.6 225.9,199.4 226.4,198.6 226.9,198.3 227.4,198.2 227.9,198.1 228.4,199.4 228.9,198 229.4,199.4 229.9,199.2 230.4,199.3 230.9,199.2 231.4,198.9 231.9,198.3 232.4,199.4 232.9,199.3 233.4,198.4 233.9,198.8 234.4,197.5 234.9,199.7 235.3,199.6" stroke-width="1.0" />
<polyline points="30.9,202.6 31,202.6 31.2,202.6 31.5,202.5 31.8,202.5 32.1,202.5 32.5,202.4 32.9,202.4 33.4,202.4 33.9,202.3 34.5,202.3 35.2,202.2 35.9,202.1 36.8,202 37.7,202 38.8,201.9 39.9,201.8 41.3,201.6 42.6,201.5 44,201.4 45.3,201.3 46.7,201.2 48.1,201.1 49.4,200.9 50.8,200.8 52.1,200.7 53.5,200.6 54.9,200.5 56.2,200.4 57.6,200.3 58.9,200.2 60.3,200 61.7,199.9 63,199.8 64.4,199.7 65.7,199.6 67.1,199.5 68.5,199.4 69.8,199.3 71.2,199.2 71.5,199.2 71.8,199.2 72.2,199.3 72.6,199.2 73.2,199.3 73.8,199.3 74.5,199.3 75.3,199.3 76.2,199.3 77.2,199.4 78.3,199.3 79.7,199.4 81,199.4 82.9,199.4 85.1,199.4 87.8,199.4 91,199.4" stroke-width="1.2" />
<polyline points="91,199.4 94.2,199.4 95.7,199.4 97.2,199.5 98.6,199.4 100.1,199.4 101.5,199.4 103,199.4 104.4,199.4 105.9,199.4 107.3,199.5 108.8,199.5 110.2,199.4 111.7,199.5 113.1,199.5 114.6,199.4 116,199.5 117.5,199.6 118.9,199.5 120.4,199.5 121.8,199.6 123.3,199.6 124.7,199.6 126.2,199.6 127.6,199.6 129.1,199.7 130.5,199.7 132,199.8 133.4,199.8 134.9,199.8 136.3,199.8 137.8,199.9 139.2,199.9 139.6,199.9 140.1,199.9 140.6,199.9 141.1,199.9 141.6,200 142.1,200 142.6,200 143.1,199.9 143.6,200 144.1,200 144.6,200.1 145.1,200 145.6,200 146.1,200 146.6,200 147.1,200 147.6,200 148.1,200.1 148.6,200 149.1,200 149.5,199.9 150,199.9 150.5,200 151,200 151.5,200.1 152,200.1 152.5,200.1 153,199.9 153.5,200.1 154,200.1 154.3,200 154.8,200.1 155.2,200.1 155.7,199.9 156.2,200.2 156.7,200.2 157.2,200 157.7,200.2 158.2,199.9 158.7,199.9 159.2,200.1 159.7,199.9 160.2,200.1 160.6,200 161.1,200.1 161.6,199.9 162.1,200.1 162.6,199.9 163.1,200.1 163.6,200.2 164.1,199.8 164.6,200.3 165.1,200.2 165.6,200 166.1,199.8 166.6,199.9 167.1,199.9 167.6,200.3 168.1,200.3 168.6,199.9 169.1,199.9 169.6,199.8 170.1,200.1 170.6,200 171.1,200.2 171.6,200.3 172.1,199.9 172.6,199.9 173.1,200.3 173.6,200 174.1,199.8 174.6,199.9 175.1,200.2 175.6,200.4 176.1,200.2 176.6,200.3 177.1,200.1 177.6,200.1 178.1,200.1 178.6,200.3 179.1,200.2 179.6,200.3 180.1,199.7 180.6,199.8 181.1,199.7 181.6,200.1 182.1,199.8 182.6,200.3 183.1,200.2 183.6,200.1 184.1,200.2 184.6,200.3 185.1,199.6 185.6,200.1 186.1,199.8 186.6,200.3 187.1,199.8 187.6,199.8 188.1,199.6 188.6,200.2 189.1,199.6 189.6,199.7 190.1,200.4 190.6,200.1 191,200.1 191.5,199.5 192,199.8 192.5,200.4 193,200 193.5,199.7 194,200.5 194.5,199.7 195,199.8 195.5,199.7 196,200.4 196.5,199.5 197,200.1 197.5,199.8 198,200.3 198.5,200.6 199,200.6 199.5,199.9 200,199.5 200.5,199.8 201,200.6 201.5,200.6 202,199.3 202.5,200.1 203,199.4 203.5,199.6 204,199.6 204.5,199.5 205,200.1 205.5,200.2 206,200.6 206.5,199.3 207,200.6 207.5,199.4 208,200.6 208.5,199.8 209,199.4 209.5,199.8 210,199.8 210.5,199.9 211,200.6 211.5,199.2 212,199.6 212.5,199.2 213,199.3 213.5,200.4 214,199.5 214.5,199.9 215,200.4 215.5,199.8 216,199.1 216.5,200.8 217,199.6 217.5,200.1 218,199.9 218.5,199.6 219,200.5 219.5,200.8 220,200.6 220.5,200.1 220.9,199.6 221.4,199.9 221.9,199.3 222.4,200.3 222.9,200.7 223.4,199.7 223.9,199.5 224.4,199.9 224.9,200.8 225.4,200 225.9,199.5 226.4,200.2 226.9,199.2 227.4,200.4 227.9,199.5 228.4,200.1 228.9,200.7 229.4,200.4 229.9,200.7 230.4,199.8 230.9,199.1 231.4,199.3 231.9,199.6 232.4,200.9 232.9,199.6 233.4,199.2 233.9,200.3 234.4,199.9 234.9,200 235.3,199.9" stroke-width="1.0" />
<rect x="103.7" y="3.2" width="144.80" height="135.30" fill="#fff" stroke-width="1.25"/>
<line x1="104.90" y1="138.50" x2="104.90" y2="140.80" stroke-width="0.95" />
<line x1="134.80" y1="138.50" x2="134.80" y2="140.80" stroke-width="0.95" />
<line x1="164.70" y1="138.50" x2="164.70" y2="140.80" stroke-width="0.95" />
<line x1="194.60" y1="138.50" x2="194.60" y2="140.80" stroke-width="0.95" />
<line x1="224.50" y1="138.50" x2="224.50" y2="140.80" stroke-width="0.95" />
<line x1="103.70" y1="134.75" x2="101.40" y2="134.75" stroke-width="0.95" />
<line x1="103.70" y1="98.16" x2="101.40" y2="98.16" stroke-width="0.95" />
<line x1="103.70" y1="61.58" x2="101.40" y2="61.58" stroke-width="0.95" />
<line x1="103.70" y1="25.00" x2="101.40" y2="25.00" stroke-width="0.95" />
<polyline points="104.9,134.8 105.1,110.4 105.3,93.5 105.5,78.5 105.8,67.3 106.1,60.9 106.5,55.8 107,52.5 107.6,49.9 108.2,47.6 109,45.4 109.8,43.1 110.8,40.5 111.8,38.1 113,35.4 114.2,32.9 115.7,30.1 117.2,27.5 118.7,25.3 120.1,23.2 121.6,21.4 123.1,19.7 124.6,18.2 126.1,16.9 127.6,15.6 129.1,14.5 130.6,13.6 131.5,13 132,13.1 132.7,13.4 133.9,13.7 135.7,14.3 138.4,15.1 142,16.1 145.6,17 149.2,17.9 152.7,18.6 156.3,19.3 159.9,19.9 163.5,20.5 167.1,21 170.7,21.5 174.3,22 177.9,22.5 181.4,23 185,23.6 188.6,24.1 192.2,24.6 195.8,25.1 199.4,25.6 203,26.2 206.6,26.7 210.1,27.2 213.7,27.7 217.3,28.2 220.9,28.7 224.5,29.2 228.1,29.7 231.7,30.2 235.3,30.7 238.9,31.2 239.9,31.3" stroke-width="1.05" />
<polyline points="104.9,134.8 105.1,116.8 105.3,104 105.5,92.4 105.8,83.1 106.1,77.2 106.5,71.9 107,67.9 107.6,64.2 108.2,60.9 109,57.8 109.8,54.6 110.8,51.5 111.8,48.7 113,45.7 114.2,43.2 115.7,40.4 117.2,38 118.7,35.8 120.1,33.9 121.6,32.1 123.1,30.5 124.6,29 126.1,27.6 127.6,26.3 129.1,25.1 130.6,23.9 131.5,23.3 132,23.4 132.7,23.6 133.9,23.9 135.7,24.3 138.4,25 142,25.8 145.6,26.5 149.2,27.3 152.7,27.9 156.3,28.5 159.9,29.1 163.5,29.6 167.1,30.1 170.7,30.6 174.3,31.1 177.9,31.6 181.4,32.1 185,32.7 188.6,33.3 192.2,33.8 195.8,34.4 199.4,35 203,35.6 206.6,36.2 210.1,36.8 213.7,37.5 217.3,38.1 220.9,38.7 224.5,39.4 228.1,40 231.7,40.7 235.3,41.3 238.9,42 239.9,42.2" stroke-width="1.05" />
<polyline points="104.9,134.8 105.1,124 105.3,115.8 105.5,107.7 105.8,100.4 106.1,95 106.5,89.2 107,84 107.6,78.7 108.2,73.9 109,69.5 109.8,65.2 110.8,61.2 111.8,57.8 113,54.5 114.2,51.8 115.7,49.1 117.2,46.9 118.7,45 120.1,43.4 121.6,41.9 123.1,40.5 124.6,39.2 126.1,37.9 127.6,36.7 129.1,35.5 130.6,34.4 131.5,33.7 132,33.8 132.7,34 133.9,34.3 135.7,34.7 138.4,35.3 142,36.1 145.6,36.8 149.2,37.5 152.7,38.2 156.3,38.9 159.9,39.5 163.5,40.1 167.1,40.7 170.7,41.3 174.3,41.8 177.9,42.4 181.4,42.9 185,43.5 188.6,44 192.2,44.6 195.8,45.1 199.4,45.6 203,46.2 206.6,46.7 210.1,47.2 213.7,47.7 217.3,48.2 220.9,48.8 224.5,49.2 228.1,49.7 231.7,50.2 235.3,50.7 238.9,51.2 239.9,51.3" stroke-width="1.05" />
<polyline points="104.9,134.8 105.1,128.6 105.3,123.4 105.5,117.5 105.8,111.7 106.1,107 106.5,102 107,97.5 107.6,93.3 108.2,89.7 109,86.4 109.8,83.1 110.8,79.7 111.8,76.5 113,73 114.2,69.9 115.7,66.4 117.2,63.4 118.7,60.6 120.1,58.2 121.6,56 123.1,54.1 124.6,52.3 126.1,50.8 127.6,49.4 129.1,48.1 130.6,47 131.5,46.4 132,46.5 132.7,46.7 133.9,47 135.7,47.5 138.4,48.1 142,48.9 145.6,49.7 149.2,50.4 152.7,51 156.3,51.6 159.9,52.1 163.5,52.5 167.1,52.9 170.7,53.3 174.3,53.7 177.9,54.1 181.4,54.6 185,55.1 188.6,55.5 192.2,56 195.8,56.5 199.4,57 203,57.5 206.6,58 210.1,58.5 213.7,59 217.3,59.5 220.9,60 224.5,60.5 228.1,61 231.7,61.6 235.3,62.1 238.9,62.6 239.9,62.8" stroke-width="1.05" />
<polyline points="104.9,134.8 105.1,132 105.3,129.4 105.5,126.1 105.8,122.3 106.1,118.9 106.5,114.6 107,110.2 107.6,105.6 108.2,101.2 109,97.2 109.8,93.4 110.8,89.8 111.8,86.6 113,83.6 114.2,81.1 115.7,78.4 117.2,76.2 118.7,74.2 120.1,72.4 121.6,70.8 123.1,69.2 124.6,67.7 126.1,66.2 127.6,64.8 129.1,63.5 130.6,62.1 131.5,61.3 132,61.4 132.7,61.6 133.9,61.9 135.7,62.4 138.4,63 142,63.9 145.6,64.6 149.2,65.3 152.7,65.8 156.3,66.3 159.9,66.7 163.5,67.1 167.1,67.4 170.7,67.7 174.3,68 177.9,68.4 181.4,68.8 185,69.2 188.6,69.6 192.2,70.1 195.8,70.5 199.4,71 203,71.4 206.6,71.9 210.1,72.4 213.7,72.9 217.3,73.4 220.9,73.9 224.5,74.5 228.1,75 231.7,75.6 235.3,76.2 238.9,76.7 239.9,76.9" stroke-width="1.05" />
<polyline points="104.9,134.8 105.1,134 105.3,133.2 105.5,132.2 105.8,130.9 106.1,129.7 106.5,128.1 107,126.3 107.6,124.1 108.2,121.9 109,119.5 109.8,117 110.8,114.3 111.8,111.6 113,108.8 114.2,106.2 115.7,103.3 117.2,100.7 118.7,98.3 120.1,96.3 121.6,94.4 123.1,92.7 124.6,91.2 126.1,89.9 127.6,88.7 129.1,87.6 130.6,86.6 131.5,86.1 132,86.2 132.7,86.4 133.9,86.7 135.7,87.2 138.4,87.8 142,88.6 145.6,89.3 149.2,89.9 152.7,90.4 156.3,90.7 159.9,91 163.5,91.2 167.1,91.4 170.7,91.6 174.3,91.8 177.9,92 181.4,92.3 185,92.6 188.6,92.9 192.2,93.2 195.8,93.6 199.4,93.9 203,94.2 206.6,94.6 210.1,95 213.7,95.3 217.3,95.7 220.9,96.1 224.5,96.5 228.1,96.9 231.7,97.4 235.3,97.8 238.9,98.3 239.9,98.4" stroke-width="1.05" />
<polyline points="104.9,134.8 105.1,134.2 105.3,133.7 105.5,133.1 105.8,132.2 106.1,131.4 106.5,130.3 107,129.1 107.6,127.6 108.2,126 109,124.3 109.8,122.4 110.8,120.3 111.8,118.2 113,115.9 114.2,113.8 115.7,111.2 117.2,108.9 118.7,106.7 120.1,104.7 121.6,102.8 123.1,101.1 124.6,99.4 126.1,97.9 127.6,96.5 129.1,95.2 130.6,94 131.5,93.3 132,93.4 132.7,93.6 133.9,93.8 135.7,94.2 138.4,94.8 142,95.5 145.6,96.1 149.2,96.7 152.7,97.1 156.3,97.6 159.9,97.9 163.5,98.2 167.1,98.5 170.7,98.8 174.3,99.1 177.9,99.4 181.4,99.8 185,100.1 188.6,100.5 192.2,100.9 195.8,101.3 199.4,101.7 203,102.2 206.6,102.6 210.1,103.1 213.7,103.5 217.3,104 220.9,104.5 224.5,105 228.1,105.5 231.7,106 235.3,106.5 238.9,107 239.9,107.2" stroke-width="1.05" />
<polyline points="104.9,134.8 105.1,134.5 105.3,134.2 105.5,133.9 105.8,133.5 106.1,133.1 106.5,132.5 107,131.8 107.6,131 108.2,130.2 109,129.3 109.8,128.2 110.8,127.1 111.8,125.9 113,124.5 114.2,123.3 115.7,121.7 117.2,120.3 118.7,118.9 120.1,117.5 121.6,116.3 123.1,115.1 124.6,114 126.1,112.9 127.6,111.8 129.1,110.9 130.6,109.9 131.5,109.4 132,109.5 132.7,109.7 133.9,109.9 135.7,110.3 138.4,110.9 142,111.6 145.6,112.2 149.2,112.8 152.7,113.3 156.3,113.6 159.9,114 163.5,114.3 167.1,114.6 170.7,114.8 174.3,115.1 177.9,115.4 181.4,115.7 185,116.1 188.6,116.4 192.2,116.8 195.8,117.1 199.4,117.5 203,117.8 206.6,118.2 210.1,118.6 213.7,118.9 217.3,119.3 220.9,119.7 224.5,120.1 228.1,120.5 231.7,120.9 235.3,121.3 238.9,121.7 239.9,121.8" stroke-width="1.05" />
<polyline points="104.9,134.8 105.1,134.6 105.3,134.5 105.5,134.3 105.8,134.1 106.1,133.9 106.5,133.6 107,133.2 107.6,132.8 108.2,132.3 109,131.8 109.8,131.2 110.8,130.6 111.8,129.9 113,129.1 114.2,128.3 115.7,127.3 117.2,126.4 118.7,125.5 120.1,124.6 121.6,123.7 123.1,122.8 124.6,122 126.1,121.2 127.6,120.4 129.1,119.6 130.6,118.8 131.5,118.4 132,118.5 132.7,118.5 133.9,118.7 135.7,118.8 138.4,119.1 142,119.5 145.6,119.8 149.2,120.1 152.7,120.5 156.3,120.8 159.9,121.1 163.5,121.3 167.1,121.6 170.7,121.9 174.3,122.2 177.9,122.4 181.4,122.7 185,123 188.6,123.3 192.2,123.6 195.8,123.8 199.4,124.1 203,124.4 206.6,124.7 210.1,125 213.7,125.2 217.3,125.5 220.9,125.8 224.5,126.1 228.1,126.4 231.7,126.7 235.3,126.9 238.9,127.2 239.9,127.3" stroke-width="1.05" />
<polyline points="104.9,134.8 105.1,134.7 105.3,134.6 105.5,134.5 105.8,134.4 106.1,134.3 106.5,134.1 107,133.9 107.6,133.7 108.2,133.5 109,133.2 109.8,132.9 110.8,132.5 111.8,132.2 113,131.7 114.2,131.3 115.7,130.8 117.2,130.3 118.7,129.8 120.1,129.3 121.6,128.8 123.1,128.3 124.6,127.8 126.1,127.3 127.6,126.9 129.1,126.4 130.6,126 131.5,125.7 132,125.7 132.7,125.8 133.9,125.9 135.7,126 138.4,126.2 142,126.5 145.6,126.8 149.2,127 152.7,127.3 156.3,127.5 159.9,127.8 163.5,128 167.1,128.3 170.7,128.5 174.3,128.7 177.9,128.9 181.4,129.1 185,129.2 188.6,129.4 192.2,129.6 195.8,129.7 199.4,129.9 203,130 206.6,130.2 210.1,130.3 213.7,130.5 217.3,130.6 220.9,130.7 224.5,130.8 228.1,130.9 231.7,131 235.3,131.1 238.9,131.2 239.9,131.2" stroke-width="1.05" />
<polyline points="104.9,134.8 105.1,134.7 105.3,134.7 105.5,134.7 105.8,134.6 106.1,134.6 106.5,134.5 107,134.4 107.6,134.3 108.2,134.2 109,134.1 109.8,134 110.8,133.8 111.8,133.7 113,133.5 114.2,133.3 115.7,133.1 117.2,132.9 118.7,132.7 120.1,132.4 121.6,132.2 123.1,132 124.6,131.8 126.1,131.6 127.6,131.4 129.1,131.2 130.6,131 131.5,130.9 132,130.9 132.7,130.9 133.9,131 135.7,131 138.4,131.1 142,131.3 145.6,131.4 149.2,131.5 152.7,131.6 156.3,131.7 159.9,131.8 163.5,131.9 167.1,132 170.7,132.1 174.3,132.2 177.9,132.3 181.4,132.3 185,132.4 188.6,132.5 192.2,132.5 195.8,132.6 199.4,132.6 203,132.7 206.6,132.8 210.1,132.8 213.7,132.9 217.3,132.9 220.9,132.9 224.5,133 228.1,133 231.7,133 235.3,133.1 238.9,133.1 239.9,133.1" stroke-width="1.05" />
<rect x="290.85" y="3.15" width="220.10" height="203.90" stroke-width="1.25"/>
<line x1="290.85" y1="207.05" x2="290.85" y2="210.10" stroke-width="1.1" />
<line x1="322.30" y1="207.05" x2="322.30" y2="210.10" stroke-width="1.1" />
<line x1="353.75" y1="207.05" x2="353.75" y2="210.10" stroke-width="1.1" />
<line x1="385.20" y1="207.05" x2="385.20" y2="210.10" stroke-width="1.1" />
<line x1="416.65" y1="207.05" x2="416.65" y2="210.10" stroke-width="1.1" />
<line x1="448.10" y1="207.05" x2="448.10" y2="210.10" stroke-width="1.1" />
<line x1="479.55" y1="207.05" x2="479.55" y2="210.10" stroke-width="1.1" />
<line x1="511.00" y1="207.05" x2="511.00" y2="210.10" stroke-width="1.1" />
<line x1="290.85" y1="202.15" x2="288.10" y2="202.15" stroke-width="1.1" />
<line x1="290.85" y1="149.74" x2="288.10" y2="149.74" stroke-width="1.1" />
<line x1="290.85" y1="97.32" x2="288.10" y2="97.32" stroke-width="1.1" />
<line x1="290.85" y1="44.91" x2="288.10" y2="44.91" stroke-width="1.1" />
<polyline points="290.9,201.9 292.4,202.2 293.9,202 295.4,202.2 296.9,201.9 298.4,202.1 299.9,202 301.4,202.3 302.9,202.4 304.4,202.3 305.9,202.1 307.4,202.1 308.9,202.2 310.4,202 311.9,201.9 313.4,202.3" stroke-width="1.3" />
<polyline points="314,202.2 314.3,205.2 314.8,195.2 315.8,181.9 316.8,169.5 317.8,157.8 318.8,146.9 319.8,136.6 320.8,126.9 321.8,117.9 322.8,109.4 323.8,101.4 324.8,93.9 325.8,86.8 326.8,80.2 327.8,74 328.8,68.2 329.8,62.7 330.8,57.6 331.8,52.8 332.8,48.3 333.8,44 334.8,40.1 335.8,36.3 336.8,32.8 337.8,29.5 338.8,26.4 339.8,23.5 340.8,20.8 341.8,18.2 342.8,15.8 343.8,13.6 344.8,11.5 345.8,9.5 345.9,9.3 347.9,10.2 350.9,11.5 353.9,12.7 356.9,13.8 359.9,14.8 362.9,15.7 365.9,16.6 368.9,17.5 371.9,18.3 374.9,19.2 377.9,19.9 380.9,20.4 383.9,20.9 386.9,21.3 389.9,21.7 392.9,21.9 395.9,22 398.9,22.1 401.9,22.1 404.9,22.2 407.9,22.2 410.9,22.2 413.9,22.2 416.9,22.3 419.9,22.3 422.9,22.3 425.9,22.4 428.9,22.4 431.9,22.4 434.9,22.4 437.9,22.5 440.9,22.5 441.5,22.5 441.9,28.1 442.3,31.1 442.9,34.1 444,38.4 446,43.6 448,47.5 450,52.4 452,57.9 454,63.3 456,68.5 458,73.1 460,77.3 462,81.1 464,84.8 466,88.4 468,91.9 470,95.3 472,98.5 474,101.7 476,105 478,108.3 480,111.3 482,113.9 484,116.3 486,118.5 488,120.5 489.2,121.6 489.8,120.4 490.5,121 491.1,123.3 492.5,124.4 494.5,126.1 496.5,127.6 498.5,129 500.5,130.2 502.4,131.3" stroke-width="1.2" />
<polyline points="314.1,202.2 314.4,205.2 314.9,195.2 315.9,182 316.9,169.5 317.9,157.8 318.9,146.9 319.9,136.6 320.9,127 321.9,117.9 322.9,109.4 323.9,101.4 324.9,93.9 325.9,86.9 326.9,80.3 327.9,74.1 328.9,68.2 329.9,62.8 330.9,57.7 331.9,52.8 332.9,48.3 333.9,44.1 334.9,40.1 335.9,36.4 336.9,32.9 337.9,29.6 338.9,26.5 339.9,23.6 340.9,20.9 341.9,18.3 342.9,15.9 343.9,13.7 344.9,11.5 345.9,9.6 345.9,9.5 347.9,10.5 350.9,11.9 353.9,13.3 356.9,14.6 359.9,16 362.9,17.3 365.9,18.6 368.9,19.6 371.9,20.5 374.9,21.4 377.9,22.1 380.9,22.7 383.9,23.2 386.9,23.7 389.9,24.1 392.9,24.4 395.9,24.7 398.9,24.8 401.9,25 404.9,25.1 407.9,25.3 410.9,25.4 413.9,25.5 416.9,25.5 419.9,25.6 422.9,25.7 425.9,25.7 428.9,25.8 431.9,25.8 434.9,25.8 437.9,25.9 441.4,25.9 441.8,31.8 442.2,34.5 442.8,37.7 443.9,42 445.9,47.2 447.9,52.9 449.9,59.2 451.9,65.3 453.9,70.8 455.9,75.8 457.9,80.4 459.9,84.8 461.9,88.9 463.9,92.7 465.9,96.4 467.9,99.9 469.9,103.4 471.9,106.8 473.9,110.1 475.9,112.7 477.9,115 479.9,117 481.9,118.9 483.9,120.7 485.9,122.3 487.9,123.9 489.2,124.9 489.8,123.7 490.5,124.2 491.1,126.3 492.5,127.4 494.5,128.7 496.5,130.1 498.5,131.3 500.5,132.5 502.4,133.5" stroke-width="1.2" />
<polyline points="314.1,202.2 314.4,205.2 314.9,195.4 315.9,182.6 316.9,170.5 317.9,159.2 318.9,148.6 319.9,138.7 320.9,129.3 321.9,120.5 322.9,112.3 323.9,104.6 324.9,97.3 325.9,90.5 326.9,84.1 327.9,78.1 328.9,72.5 329.9,67.2 330.9,62.2 331.9,57.6 332.9,53.2 333.9,49.1 334.9,45.2 335.9,41.6 336.9,38.2 337.9,35 338.9,32 339.9,29.2 340.9,26.6 341.9,24.1 342.9,21.8 343.9,19.6 344.9,17.5 345.9,15.7 347.9,16 350.9,16.5 353.9,16.9 356.9,17.4 359.9,17.8 362.9,18.3 365.9,18.7 368.9,19.1 371.9,19.6 374.9,20.1 377.9,20.6 380.9,21.1 383.9,21.6 386.9,22 389.9,22.3 392.9,22.5 395.9,22.6 398.9,22.6 401.9,22.7 404.9,22.7 407.9,22.7 410.9,22.7 413.9,22.7 416.9,22.8 419.9,22.8 422.9,22.8 425.9,22.9 428.9,22.9 431.9,23 434.9,23 437.9,23.1 440.9,23.2 441.5,23.2 441.9,28.9 442.3,31.7 442.9,34.7 444,39.1 446,44.3 448,48.3 450,53.6 452,59.2 454,64.7 456,69.9 458,74.4 460,78.6 462,82.5 464,86.3 466,89.9 468,93.4 470,96.8 472,100.1 474,103.4 476,106.7 478,109.9 480,112.7 482,115.1 484,117.3 486,119.3 488,121.2 489.2,122.3 489.8,121.1 490.5,121.7 491.1,123.9 492.5,125 494.5,126.6 496.5,128 498.5,129.4 500.5,130.7 502.4,131.7" stroke-width="1.2" />
<polyline points="314.2,202.2 314.5,205.2 315,195.5 316,182.9 317,171 318,159.8 319,149.3 320,139.5 321,130.3 322,121.6 323,113.5 324,105.9 325,98.7 326,92 327,85.7 328,79.7 329,74.2 330,69 331,64.1 332,59.5 333,55.1 334,51.1 335,47.3 336,43.7 337,40.4 338,37.2 339,34.3 340,31.5 341,28.9 342,26.5 343,24.2 344,22 345,20 345.9,18.3 347.9,18.7 350.9,19.2 353.9,19.7 356.9,20.2 359.9,20.6 362.9,21 365.9,21.4 368.9,21.7 371.9,22 374.9,22.2 377.9,22.5 380.9,22.8 383.9,23 386.9,23.2 389.9,23.3 392.9,23.4 395.9,23.4 398.9,23.4 401.9,23.4 404.9,23.4 407.9,23.3 410.9,23.3 413.9,23.3 416.9,23.3 419.9,23.3 422.9,23.3 425.9,23.4 428.9,23.4 431.9,23.5 434.9,23.6 437.9,23.7 440.9,23.8 441.4,23.9 441.8,29.6 442.2,32.4 442.8,35.4 443.9,39.8 445.9,44.9 447.9,49.2 449.9,54.9 451.9,60.7 453.9,66.2 455.9,71.3 457.9,75.8 459.9,80 461.9,84 463.9,87.8 465.9,91.5 467.9,95 469.9,98.4 471.9,101.7 473.9,105 475.9,108.4 477.9,111.4 479.9,113.9 481.9,116.1 483.9,118.2 485.9,120.1 487.9,121.9 489.2,122.9 489.8,121.7 490.5,122.3 491.1,124.5 492.5,125.6 494.5,127.1 496.5,128.5 498.5,129.9 500.5,131.1 502.4,132.2" stroke-width="1.2" />
<polyline points="314.3,202.2 314.6,205.2 315.1,195.6 316.1,183.1 317.1,171.4 318.1,160.4 319.1,150 320.1,140.3 321.1,131.2 322.1,122.7 323.1,114.6 324.1,107.1 325.1,100 326.1,93.4 327.1,87.2 328.1,81.3 329.1,75.8 330.1,70.7 331.1,65.8 332.1,61.3 333.1,57 334.1,53 335.1,49.3 336.1,45.8 337.1,42.5 338.1,39.4 339.1,36.4 340.1,33.7 341.1,31.1 342.1,28.7 343.1,26.5 344.1,24.3 345.1,22.3 345.9,20.8 347.9,21.2 350.9,21.9 353.9,22.5 356.9,23.1 359.9,23.6 362.9,24 365.9,24.4 368.9,24.7 371.9,24.9 374.9,25.2 377.9,25.4 380.9,25.7 383.9,25.9 386.9,26 389.9,26.1 392.9,26.2 395.9,26.2 398.9,26.2 401.9,26.2 404.9,26.2 407.9,26.2 410.9,26.2 413.9,26.2 416.9,26.2 419.9,26.2 422.9,26.2 425.9,26.3 428.9,26.4 431.9,26.5 434.9,26.7 437.9,26.8 441.3,27 441.7,33 442.1,35.7 442.7,39 443.8,43.3 445.8,48.8 447.8,55.4 449.8,62 451.8,68 453.8,73.5 455.8,78.6 457.8,83.3 459.8,87.6 461.8,91.7 463.8,95.6 465.8,99.3 467.8,102.8 469.8,106.3 471.8,109.6 473.8,112.4 475.8,114.6 477.8,116.7 479.8,118.6 481.8,120.3 483.8,122 485.8,123.5 487.8,125 489.2,126 489.8,124.8 490.5,125.3 491.1,127.4 492.5,128.3 494.5,129.7 496.5,130.9 498.5,132.1 500.5,133.2 502.4,134.2" stroke-width="1.2" />
<polyline points="314.4,202.2 314.7,205.2 315.2,195.3 316.2,182.2 317.2,170 318.2,158.5 319.2,147.7 320.2,137.5 321.2,128 322.2,119.1 323.2,110.7 324.2,102.8 325.2,95.4 326.2,88.5 327.2,82 328.2,75.8 329.2,70.1 330.2,64.7 331.2,59.7 332.2,54.9 333.2,50.5 334.2,46.3 335.2,42.4 336.2,38.7 337.2,35.2 338.2,32 339.2,28.9 340.2,26.1 341.2,23.4 342.2,20.8 343.2,18.5 344.2,16.3 345.2,14.2 345.9,12.7 347.9,13.5 350.9,14.8 353.9,16 356.9,17.1 359.9,18.2 362.9,19.2 365.9,20.2 368.9,21.1 371.9,21.8 374.9,22.6 377.9,23.2 380.9,24 383.9,24.8 386.9,25.8 389.9,27.2 392.9,28.6 395.9,29.7 398.9,30.5 401.9,31.3 404.9,32 407.9,32.7 410.9,33.4 413.9,34.3 416.9,35.2 419.9,36.3 422.9,37.4 425.9,38.5 428.9,39.5 431.9,40.5 434.9,41.5 437.9,42.4 440.8,43.3 441.1,45.1 441.6,46.8 442.1,49.1 443.2,53 445.2,59.6 447.2,65.5 449.2,70.6 451.2,75 453.2,78.8 455.2,82.4 457.2,85.6 459.2,88.7 461.2,91.7 463.2,95 465.2,98.5 467.2,102 469.2,105.2 471.2,108 473.2,110.6 475.2,113 477.2,115.3 479.2,117.5 481.2,119.8 483.2,121.9 485.2,123.9 487.2,125.8 489.2,127.4 489.8,126.2 490.5,126.7 491.1,128.8 492.5,129.8 494.5,131.2 496.5,132.4 498.5,133.5 500.5,134.5 502.4,135.3" stroke-width="1.2" />
<polyline points="314.4,202.2 314.7,205.2 315.2,195.4 316.2,182.4 317.2,170.2 318.2,158.8 319.2,148 320.2,138 321.2,128.5 322.2,119.7 323.2,111.3 324.2,103.5 325.2,96.2 326.2,89.3 327.2,82.8 328.2,76.7 329.2,71.1 330.2,65.7 331.2,60.7 332.2,56 333.2,51.6 334.2,47.4 335.2,43.5 336.2,39.8 337.2,36.4 338.2,33.2 339.2,30.2 340.2,27.3 341.2,24.7 342.2,22.2 343.2,19.8 344.2,17.6 345.2,15.5 345.9,14.2 347.9,15.6 350.9,17.8 353.9,19.9 356.9,21.9 359.9,24 362.9,26 365.9,28 368.9,29.9 371.9,31.8 374.9,33.7 377.9,35.6 380.9,37.4 383.9,39.1 386.9,40.9 389.9,42.6 392.9,44.3 395.9,46.1 398.9,47.9 401.9,49.8 404.9,51.6 407.9,53.6 410.9,55.5 413.9,57.1 416.9,58.7 419.9,60.1 422.9,61.3 425.9,62.4 428.9,63.5 431.9,64.5 434.9,65.4 437.9,66.2 440.4,66.7 440.8,67.7 441.2,68.8 441.8,70.3 442.9,73 444.9,77.3 446.9,80.9 448.9,84 450.9,86.8 452.9,89.6 454.9,92.8 456.9,96.4 458.9,100 460.9,103.1 462.9,105.7 464.9,108 466.9,110.1 468.9,112.1 470.9,114.2 472.9,116.4 474.9,118.4 476.9,120.4 478.9,122.3 480.9,124.2 482.9,126.1 484.9,127.9 486.9,129.5 488.9,131 489.2,131.2 489.8,129.9 490.5,130.3 491.1,132.3 492.5,133.2 494.5,134.2 496.5,135.2 498.5,136.1 500.5,136.9 502.4,137.5" stroke-width="1.2" />
<polyline points="314.5,202.2 314.8,205.2 315.3,195.4 316.3,182.6 317.3,170.5 318.3,159.2 319.3,148.6 320.3,138.7 321.3,129.3 322.3,120.5 323.3,112.3 324.3,104.5 325.3,97.3 326.3,90.5 327.3,84.1 328.3,78.1 329.3,72.4 330.3,67.1 331.3,62.2 332.3,57.5 333.3,53.1 334.3,49 335.3,45.2 336.3,41.5 337.3,38.1 338.3,35 339.3,32 340.3,29.2 341.3,26.5 342.3,24 343.3,21.7 344.3,19.5 345.3,17.5 345.9,16.3 347.9,18.8 350.9,22.3 353.9,25.8 356.9,29.1 359.9,32.3 362.9,35.4 365.9,38.3 368.9,41.2 371.9,43.9 374.9,46.5 377.9,49 380.9,51.3 383.9,53.5 386.9,55.6 389.9,57.6 392.9,59.5 395.9,61.6 398.9,63.7 401.9,65.8 404.9,67.7 407.9,69.5 410.9,71.2 413.9,72.9 416.9,74.5 419.9,76.1 422.9,77.6 425.9,79.2 428.9,80.7 431.9,82.2 434.9,83.6 437.9,85 440.4,86.2 440.8,86.8 441.2,87.4 441.8,88.3 442.9,90 444.9,93 446.9,96.1 448.9,99.4 450.9,102.5 452.9,105.2 454.9,107.6 456.9,109.8 458.9,111.8 460.9,113.6 462.9,115.5 464.9,117.2 466.9,118.8 468.9,120.4 470.9,121.9 472.9,123.4 474.9,124.8 476.9,126.2 478.9,127.7 480.9,129.2 482.9,130.6 484.9,132.1 486.9,133.4 488.9,134.6 489.2,134.7 489.8,133.3 490.5,133.7 491.1,135.7 492.5,136.4 494.5,137.3 496.5,138.1 498.5,138.8 500.5,139.5 502.4,140" stroke-width="1.2" />
<polyline points="314.6,202.2 314.9,205.2 315.4,195.5 316.4,182.8 317.4,170.9 318.4,159.7 319.4,149.2 320.4,139.3 321.4,130 322.4,121.3 323.4,113.2 324.4,105.5 325.4,98.3 326.4,91.6 327.4,85.3 328.4,79.3 329.4,73.7 330.4,68.5 331.4,63.6 332.4,59 333.4,54.6 334.4,50.6 335.4,46.7 336.4,43.2 337.4,39.8 338.4,36.6 339.4,33.7 340.4,30.9 341.4,28.3 342.4,25.8 343.4,23.5 344.4,21.4 345.4,19.3 345.9,18.3 347.9,21.8 350.9,26.8 353.9,31.6 356.9,36.1 359.9,40.5 362.9,44.6 365.9,48.5 368.9,52.2 371.9,55.6 374.9,58.7 377.9,61.6 380.9,64.3 383.9,66.9 386.9,69.5 389.9,71.9 392.9,74.3 395.9,76.6 398.9,79 401.9,81.5 404.9,83.9 407.9,85.9 410.9,87.7 413.9,89.3 416.9,90.8 419.9,92.3 422.9,93.8 425.9,95.2 428.9,96.6 431.9,98 434.9,99.3 437.9,100.6 440.2,101.5 440.6,102 441,102.5 441.6,103.3 442.7,104.7 444.7,106.8 446.7,108.9 448.7,110.8 450.7,112.7 452.7,114.5 454.7,116.2 456.7,118 458.7,119.7 460.7,121.4 462.7,123 464.7,124.5 466.7,125.9 468.7,127.3 470.7,128.6 472.7,130 474.7,131.3 476.7,132.4 478.7,133.5 480.7,134.5 482.7,135.4 484.7,136.3 486.7,137.1 488.7,137.8 489.2,138 489.8,136.5 490.5,136.8 491.1,138.7 492.5,139.2 494.5,139.8 496.5,140.4 498.5,141 500.5,141.5 502.4,142" stroke-width="1.2" />
<polyline points="314.6,202.2 314.9,205.2 315.4,195.6 316.4,183.1 317.4,171.3 318.4,160.3 319.4,150 320.4,140.3 321.4,131.2 322.4,122.6 323.4,114.6 324.4,107 325.4,100 326.4,93.3 327.4,87.1 328.4,81.2 329.4,75.7 330.4,70.6 331.4,65.7 332.4,61.2 333.4,56.9 334.4,52.9 335.4,49.2 336.4,45.6 337.4,42.3 338.4,39.2 339.4,36.3 340.4,33.6 341.4,31 342.4,28.6 343.4,26.3 344.4,24.2 345.4,22.2 345.9,21.3 347.9,24.7 350.9,29.7 353.9,34.5 356.9,39.1 359.9,43.5 362.9,47.8 365.9,51.9 368.9,55.8 371.9,59.5 374.9,62.9 377.9,66.2 380.9,69.2 383.9,72 386.9,74.7 389.9,77.2 392.9,79.6 395.9,81.9 398.9,84.3 401.9,86.7 404.9,89 407.9,91.6 410.9,94.1 413.9,96.2 416.9,97.9 419.9,99.2 422.9,100.5 425.9,101.9 428.9,103.3 431.9,104.7 434.9,106.1 437.9,107.5 440,108.4 440.4,108.9 440.8,109.3 441.4,110 442.5,111.3 444.5,113.4 446.5,115.3 448.5,117.1 450.5,118.8 452.5,120.4 454.5,122 456.5,123.6 458.5,125.1 460.5,126.5 462.5,127.9 464.5,129.2 466.5,130.5 468.5,131.7 470.5,132.9 472.5,134 474.5,135.1 476.5,136.1 478.5,136.9 480.5,137.7 482.5,138.4 484.5,139 486.5,139.6 488.5,140.2 489.2,140.5 489.8,138.9 490.5,139.1 491.1,141 492.5,141.4 494.5,142 496.5,142.5 498.5,143 500.5,143.5 502.4,144" stroke-width="1.2" />
<polyline points="314.7,202.2 315,205.2 315.5,195.7 316.5,183.5 317.5,172 318.5,161.2 319.5,151.1 320.5,141.6 321.5,132.7 322.5,124.3 323.5,116.5 324.5,109.1 325.5,102.2 326.5,95.7 327.5,89.6 328.5,83.9 329.5,78.5 330.5,73.5 331.5,68.7 332.5,64.3 333.5,60.1 334.5,56.2 335.5,52.5 336.5,49.1 337.5,45.8 338.5,42.8 339.5,39.9 340.5,37.3 341.5,34.8 342.5,32.4 343.5,30.2 344.5,28.1 345.5,26.1 345.9,25.4 347.9,30.4 350.9,37.6 353.9,44.2 356.9,50.2 359.9,55.6 362.9,60.5 365.9,65.2 368.9,69.9 371.9,74.5 374.9,79 377.9,83.2 380.9,87 383.9,90.6 386.9,94 389.9,97.3 392.9,100.3 395.9,103.1 398.9,105.7 401.9,108.3 404.9,110.8 407.9,113.1 410.9,115.2 413.9,117.1 416.9,118.9 419.9,120.7 422.9,122.4 425.9,124.1 428.9,125.9 431.9,127.6 434.9,129.3 437.9,131 440.2,132.3 440.6,132.4 441,132.6 441.6,132.8 442.7,133.1 444.7,133.8 446.7,134.4 448.7,135.1 450.7,135.7 452.7,136.2 454.7,136.8 456.7,137.3 458.7,137.9 460.7,138.4 462.7,138.9 464.7,139.4 466.7,139.9 468.7,140.3 470.7,140.7 472.7,141.1 474.7,141.4 476.7,141.8 478.7,142.1 480.7,142.4 482.7,142.7 484.7,143 486.7,143.3 488.7,143.6 489.2,143.7 489.8,142.1 490.5,142.2 491.1,144.1 492.5,144.3 494.5,144.7 496.5,145.1 498.5,145.5 500.5,146 502.4,146.4" stroke-width="1.2" />
<line x1="299.30" y1="181.00" x2="308.96" y2="194.25" stroke-width="1.3" />
<polygon points="312.5,199.1 306.4,194.9 310.4,192.0" fill="#000" stroke="none"/>
<line x1="346.20" y1="54.20" x2="346.20" y2="39.40" stroke-width="1.3" />
<polygon points="346.2,33.4 348.7,40.4 343.7,40.4" fill="#000" stroke="none"/>
<line x1="465.00" y1="16.30" x2="448.67" y2="21.94" stroke-width="1.3" />
<polygon points="443.0,23.9 448.8,19.3 450.4,24.0" fill="#000" stroke="none"/>
</g>
<g fill="#000">
<text class="sa" x="32.90" y="18.50" font-size="17.5" text-anchor="start" font-weight="700">A</text>
<text class="sa" x="231.50" y="17.80" font-size="17.5" text-anchor="start" font-weight="700">B</text>
<text class="sa" x="495.30" y="18.00" font-size="17.5" text-anchor="start" font-weight="700">C</text>
<text class="se" x="30.85" y="227.80" font-size="11.5" text-anchor="middle" >0</text>
<text class="se" x="76.16" y="227.80" font-size="11.5" text-anchor="middle" >500</text>
<text class="se" x="121.46" y="227.80" font-size="11.5" text-anchor="middle" >1000</text>
<text class="se" x="166.76" y="227.80" font-size="11.5" text-anchor="middle" >1500</text>
<text class="se" x="212.07" y="227.80" font-size="11.5" text-anchor="middle" >2000</text>
<text class="se" x="23.45" y="206.60" font-size="10.5" text-anchor="end" >0</text>
<text class="se" x="22.85" y="151.26" font-size="10.5" text-anchor="end" >50</text>
<text class="se" x="22.40" y="95.93" font-size="10.5" text-anchor="end" >100</text>
<text class="se" x="22.55" y="40.59" font-size="10.5" text-anchor="end" >150</text>
<text class="se" x="143.80" y="243.30" font-size="11.35" text-anchor="middle" >Time (s)</text>
<text class="se" font-size="10.7" text-anchor="middle" letter-spacing="0.3" transform="translate(6.8,109.6) rotate(-90)">RU</text>
<text class="se" x="62.40" y="75.00" font-size="10.4" text-anchor="middle" >256</text>
<text class="se" x="62.30" y="89.50" font-size="10.4" text-anchor="middle" >128</text>
<text class="se" x="64.00" y="103.50" font-size="10.4" text-anchor="middle" >64</text>
<text class="se" x="64.50" y="129.20" font-size="10.4" text-anchor="middle" >16</text>
<text class="se" x="66.00" y="148.80" font-size="10.4" text-anchor="middle" >8</text>
<text class="se" x="66.00" y="159.20" font-size="10.4" text-anchor="middle" >4</text>
<text class="se" x="66.00" y="177.70" font-size="10.4" text-anchor="middle" >2</text>
<text class="se" x="66.00" y="191.50" font-size="10.4" text-anchor="middle" >1</text>
<text class="se" x="104.90" y="152.60" font-size="8.6" text-anchor="middle" >0</text>
<text class="se" x="134.80" y="152.60" font-size="8.6" text-anchor="middle" >500</text>
<text class="se" x="164.70" y="152.60" font-size="8.6" text-anchor="middle" >1000</text>
<text class="se" x="194.60" y="152.60" font-size="8.6" text-anchor="middle" >1500</text>
<text class="se" x="224.50" y="152.60" font-size="8.6" text-anchor="middle" >2000</text>
<text class="se" x="97.00" y="137.85" font-size="8.6" text-anchor="end" >0</text>
<text class="se" x="97.00" y="101.26" font-size="8.6" text-anchor="end" >50</text>
<text class="se" x="97.00" y="64.68" font-size="8.6" text-anchor="end" >100</text>
<text class="se" x="97.00" y="28.10" font-size="8.6" text-anchor="end" >150</text>
<text class="se" x="165.40" y="16.10" font-size="10.4" text-anchor="middle" >256</text>
<text class="se" x="166.60" y="29.50" font-size="10.4" text-anchor="middle" >128</text>
<text class="se" x="167.50" y="40.00" font-size="10.4" text-anchor="middle" >64</text>
<text class="se" x="167.50" y="51.40" font-size="10.4" text-anchor="middle" >32</text>
<text class="se" x="167.50" y="65.60" font-size="10.4" text-anchor="middle" >16</text>
<text class="se" x="169.00" y="87.20" font-size="10.4" text-anchor="middle" >8</text>
<text class="se" x="169.00" y="99.30" font-size="10.4" text-anchor="middle" >4</text>
<text class="se" x="169.00" y="113.90" font-size="10.4" text-anchor="middle" >2</text>
<text class="se" x="169.00" y="123.00" font-size="10.4" text-anchor="middle" >1</text>
<text class="se" x="290.85" y="224.60" font-size="9.9" text-anchor="middle" >0</text>
<text class="se" x="322.30" y="224.60" font-size="9.9" text-anchor="middle" >200</text>
<text class="se" x="353.75" y="224.60" font-size="9.9" text-anchor="middle" >400</text>
<text class="se" x="385.20" y="224.60" font-size="9.9" text-anchor="middle" >600</text>
<text class="se" x="416.65" y="224.60" font-size="9.9" text-anchor="middle" >800</text>
<text class="se" x="448.10" y="224.60" font-size="9.9" text-anchor="middle" >1000</text>
<text class="se" x="479.55" y="224.60" font-size="9.9" text-anchor="middle" >1200</text>
<text class="se" x="511.00" y="224.60" font-size="9.9" text-anchor="middle" >1400</text>
<text class="se" x="284.00" y="205.85" font-size="10.4" text-anchor="end" >0</text>
<text class="se" x="284.40" y="153.44" font-size="10.4" text-anchor="end" >50</text>
<text class="se" x="284.55" y="101.02" font-size="10.4" text-anchor="end" >100</text>
<text class="se" x="284.80" y="48.61" font-size="10.4" text-anchor="end" >150</text>
<text class="se" x="404.35" y="238.60" font-size="11.9" text-anchor="middle" >Time (s)</text>
<text class="se" font-size="11" text-anchor="middle" letter-spacing="0.5" transform="translate(266.0,108.2) rotate(-90)">RU</text>
<text class="se" x="425.70" y="19.75" font-size="10.4" text-anchor="middle" >2.5-20</text>
<text class="se" x="428.80" y="37.05" font-size="10.4" text-anchor="middle" >1.25</text>
<text class="se" x="427.90" y="56.15" font-size="10.4" text-anchor="middle" >0.63</text>
<text class="se" x="427.70" y="74.95" font-size="10.4" text-anchor="middle" >0.31</text>
<text class="se" x="427.70" y="92.75" font-size="10.4" text-anchor="middle" >0.16</text>
<text class="se" x="427.70" y="115.35" font-size="10.4" text-anchor="middle" >0.08</text>
<text class="se" x="429.80" y="139.95" font-size="10.4" text-anchor="middle" >0.0</text>
<text class="se" x="297.60" y="180.40" font-size="12.8" text-anchor="middle" >a</text>
<text class="se" x="344.30" y="69.00" font-size="12.8" text-anchor="middle" >b</text>
<text class="se" x="470.60" y="17.30" font-size="12.8" text-anchor="middle" >c</text>
</g>
</svg>
</body></html>
